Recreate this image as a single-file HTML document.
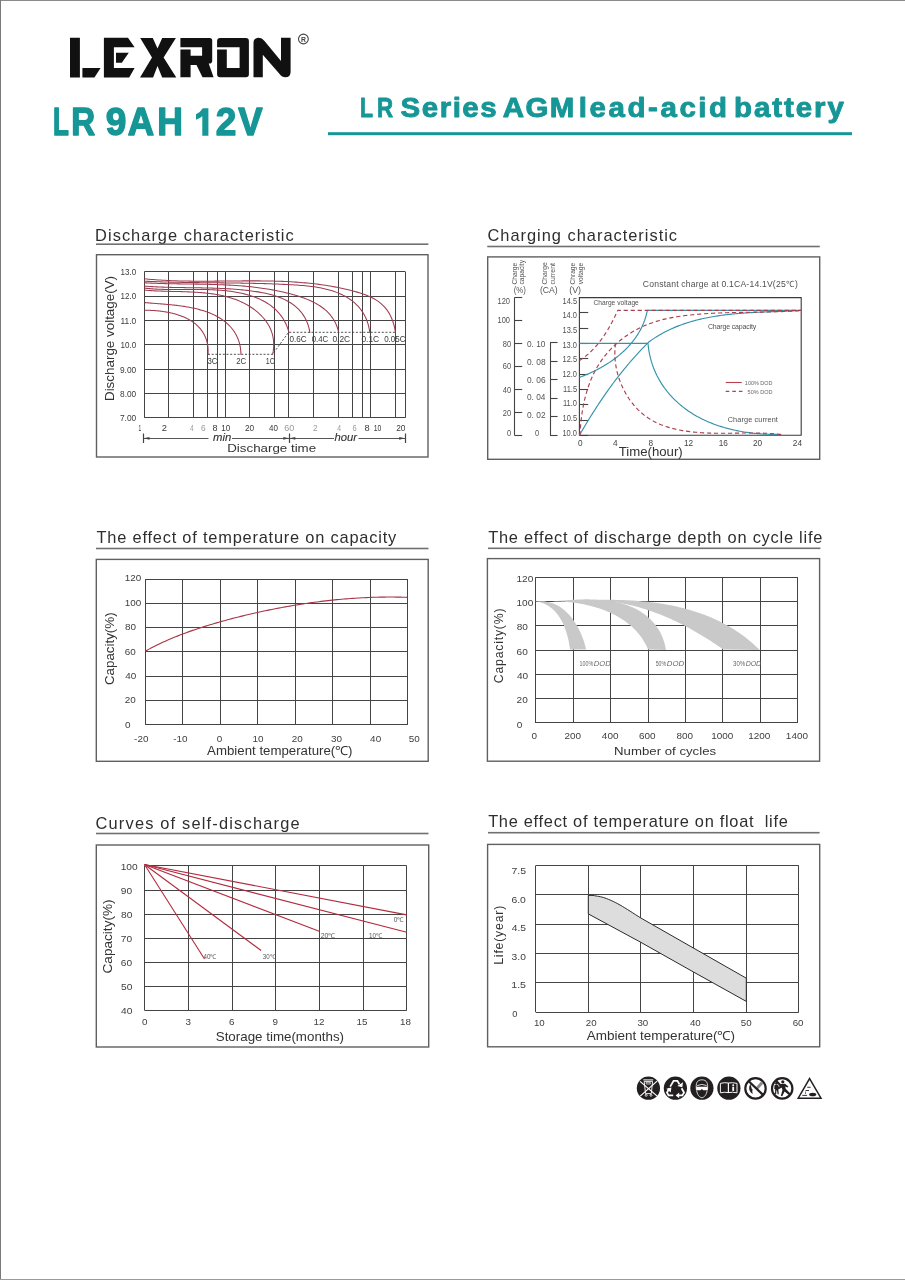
<!DOCTYPE html>
<html><head><meta charset="utf-8"><style>
html,body{margin:0;padding:0;background:#fff;}
body{width:905px;height:1280px;overflow:hidden;position:relative;}
svg{position:absolute;left:0;top:0;font-family:"Liberation Sans", sans-serif;will-change:transform;}
</style></head><body>
<svg width="905" height="1280" viewBox="0 0 905 1280">
<rect x="0" y="0" width="905" height="1" fill="#8a8a8a"/>
<rect x="0" y="0" width="1" height="1280" fill="#7a7a7a"/>
<rect x="0" y="1279" width="905" height="1" fill="#9a9a9a"/>
<path d="M70,37.8 H79.9 V77.4 H70 Z M82.4,68 H100.6 L94.4,77.4 H82.4 Z M103.9,37.8 H128 L134.6,47.3 H113.9 V68 H134.6 L129.2,77.4 H103.9 Z M116,52.7 H128.8 L121.8,62.7 H116 Z M140.2,38.1 H152.8 L157.5,48.6 L162.2,38.1 H175.9 L163.6,57.6 L176.3,77.6 H162.2 L157.5,66 L153.1,77.6 H140 L152,57.6 Z M180.4,38 H209.7 Q212.2,38 212.2,40.5 V60.8 Q212.2,63.6 209.4,63.6 H208.7 L213.6,77.3 H202.5 L196.5,65 H190.6 V77.3 H180.4 V49.5 H190.6 V55.7 H202.1 V47.3 H180.4 Z M217.1,41 Q217.1,38 220.1,38 H245.9 Q248.9,38 248.9,41 V74.3 Q248.9,77.3 245.9,77.3 H220.1 Q217.1,77.3 217.1,74.3 V49.5 H226.8 V68 H239.6 V47.3 H217.1 Z M253.5,43 Q253.5,37.7 258.8,37.7 Q262,37.7 264.5,41 L281,61 V37.7 H290.6 V72 Q290.6,77.3 285.3,77.3 Q282,77.3 279.6,74 L262.8,54.7 V77.3 H253.5 Z" fill="#111111"/>
<circle cx="303.4" cy="39" r="4.9" fill="none" stroke="#444" stroke-width="1.1"/>
<text x="300.9" y="41.6" font-size="6.8" textLength="4.91" lengthAdjust="spacingAndGlyphs" fill="#444" font-weight="bold" >R</text>
<text x="53.08" y="135.1" font-size="38.2" textLength="15.87" lengthAdjust="spacingAndGlyphs" fill="#169696" font-weight="bold" stroke="#169696" stroke-width="1.4" stroke-linejoin="round">L</text>
<text x="71.13" y="135.1" font-size="38.2" textLength="23.9" lengthAdjust="spacingAndGlyphs" fill="#169696" font-weight="bold" stroke="#169696" stroke-width="1.4" stroke-linejoin="round">R</text>
<text x="105.84" y="135.1" font-size="38.2" textLength="20.58" lengthAdjust="spacingAndGlyphs" fill="#169696" font-weight="bold" stroke="#169696" stroke-width="1.4" stroke-linejoin="round">9</text>
<text x="127.73" y="135.1" font-size="38.2" textLength="26.37" lengthAdjust="spacingAndGlyphs" fill="#169696" font-weight="bold" stroke="#169696" stroke-width="1.4" stroke-linejoin="round">A</text>
<text x="157.18" y="135.1" font-size="38.2" textLength="25.66" lengthAdjust="spacingAndGlyphs" fill="#169696" font-weight="bold" stroke="#169696" stroke-width="1.4" stroke-linejoin="round">H</text>
<text x="215.84" y="135.1" font-size="38.2" textLength="20.58" lengthAdjust="spacingAndGlyphs" fill="#169696" font-weight="bold" stroke="#169696" stroke-width="1.4" stroke-linejoin="round">2</text>
<text x="238.2" y="135.1" font-size="38.2" textLength="24.32" lengthAdjust="spacingAndGlyphs" fill="#169696" font-weight="bold" stroke="#169696" stroke-width="1.4" stroke-linejoin="round">V</text>
<path d="M202.3,108.2 H208.4 V135.8 H202.3 V116.2 Q199.4,118.6 196,119.8 V114.2 Q200.2,112.4 202.8,108.2 Z" fill="#169696"/>
<text x="360.12" y="117.15" font-size="27.8" textLength="12.99" lengthAdjust="spacingAndGlyphs" fill="#169696" font-weight="bold" stroke="#169696" stroke-width="0.9" stroke-linejoin="round">L</text>
<text x="376.95" y="117.15" font-size="27.8" textLength="16.12" lengthAdjust="spacingAndGlyphs" fill="#169696" font-weight="bold" stroke="#169696" stroke-width="0.9" stroke-linejoin="round">R</text>
<text x="-0.43" y="0" font-size="27.8" textLength="90.62" lengthAdjust="spacing" transform="translate(401.05,117.15) scale(1.06,1)" fill="#169696" font-weight="bold" stroke="#169696" stroke-width="0.9" stroke-linejoin="round">Series</text>
<text x="-0.43" y="0" font-size="27.8" textLength="67.44" lengthAdjust="spacing" transform="translate(503.25,117.15) scale(1.06,1)" fill="#169696" font-weight="bold" stroke="#169696" stroke-width="0.9" stroke-linejoin="round">AGM</text>
<text x="-1.74" y="0" font-size="27.8" textLength="140.03" lengthAdjust="spacing" transform="translate(580.55,117.15) scale(1.06,1)" fill="#169696" font-weight="bold" stroke="#169696" stroke-width="0.9" stroke-linejoin="round">lead-acid</text>
<text x="-1.74" y="0" font-size="27.8" textLength="103.64" lengthAdjust="spacing" transform="translate(735.85,117.15) scale(1.06,1)" fill="#169696" font-weight="bold" stroke="#169696" stroke-width="0.9" stroke-linejoin="round">battery</text>
<rect x="328" y="132.2" width="524" height="3" fill="#169696"/>
<text x="95.12" y="240.5" font-size="16.4" textLength="198.54" lengthAdjust="spacing" fill="#2e2e2e" >Discharge characteristic</text>
<rect x="96" y="243.4" width="332.4" height="1.6" fill="#707070"/>
<text x="487.43" y="240.6" font-size="16.4" textLength="189.62" lengthAdjust="spacing" fill="#2e2e2e" >Charging characteristic</text>
<rect x="487.3" y="245.7" width="332.5" height="1.6" fill="#707070"/>
<text x="96.54" y="542.5" font-size="16.4" textLength="299.66" lengthAdjust="spacing" fill="#2e2e2e" >The effect of temperature on capacity</text>
<rect x="96" y="547.7" width="332.5" height="1.6" fill="#707070"/>
<text x="488.14" y="542.5" font-size="16.4" textLength="334.22" lengthAdjust="spacing" fill="#2e2e2e" >The effect of discharge depth on cycle life</text>
<rect x="488" y="547.5" width="332.4" height="1.6" fill="#707070"/>
<text x="95.53" y="828.5" font-size="16.4" textLength="204.03" lengthAdjust="spacing" fill="#2e2e2e" >Curves of self-discharge</text>
<rect x="96" y="832.7" width="332.5" height="1.6" fill="#707070"/>
<text x="488.14" y="827.3" font-size="16.4" textLength="299.72" lengthAdjust="spacing" fill="#2e2e2e" >The effect of temperature on float  life</text>
<rect x="488" y="831.9" width="331.6" height="1.6" fill="#707070"/>
<rect x="96.5" y="254.7" width="331.5" height="202.3" fill="none" stroke="#606060" stroke-width="1.4"/>
<rect x="487.7" y="256.9" width="332" height="202.4" fill="none" stroke="#606060" stroke-width="1.4"/>
<rect x="96.3" y="559.4" width="331.9" height="201.9" fill="none" stroke="#606060" stroke-width="1.4"/>
<rect x="487.4" y="558.6" width="332.2" height="202.6" fill="none" stroke="#606060" stroke-width="1.4"/>
<rect x="96.3" y="845" width="332.4" height="202" fill="none" stroke="#606060" stroke-width="1.4"/>
<rect x="487.6" y="844.4" width="332.1" height="202.4" fill="none" stroke="#606060" stroke-width="1.4"/>
<line x1="144.3" y1="271.5" x2="405.3" y2="271.5" stroke="#444444" stroke-width="1.05" />
<line x1="144.3" y1="296.5" x2="405.3" y2="296.5" stroke="#444444" stroke-width="1.05" />
<line x1="144.3" y1="320.5" x2="405.3" y2="320.5" stroke="#444444" stroke-width="1.05" />
<line x1="144.3" y1="344.5" x2="405.3" y2="344.5" stroke="#444444" stroke-width="1.05" />
<line x1="144.3" y1="369.5" x2="405.3" y2="369.5" stroke="#444444" stroke-width="1.05" />
<line x1="144.3" y1="393.5" x2="405.3" y2="393.5" stroke="#444444" stroke-width="1.05" />
<line x1="144.3" y1="417.5" x2="405.3" y2="417.5" stroke="#444444" stroke-width="1.05" />
<line x1="144.5" y1="271.7" x2="144.5" y2="417.8" stroke="#444444" stroke-width="1.05" />
<line x1="168.5" y1="271.7" x2="168.5" y2="417.8" stroke="#444444" stroke-width="1.05" />
<line x1="193.5" y1="271.7" x2="193.5" y2="417.8" stroke="#444444" stroke-width="1.05" />
<line x1="207.5" y1="271.7" x2="207.5" y2="417.8" stroke="#444444" stroke-width="1.05" />
<line x1="217.5" y1="271.7" x2="217.5" y2="417.8" stroke="#444444" stroke-width="1.05" />
<line x1="225.5" y1="271.7" x2="225.5" y2="417.8" stroke="#444444" stroke-width="1.05" />
<line x1="249.5" y1="271.7" x2="249.5" y2="417.8" stroke="#444444" stroke-width="1.05" />
<line x1="274.5" y1="271.7" x2="274.5" y2="417.8" stroke="#444444" stroke-width="1.05" />
<line x1="288.5" y1="271.7" x2="288.5" y2="417.8" stroke="#444444" stroke-width="1.05" />
<line x1="313.5" y1="271.7" x2="313.5" y2="417.8" stroke="#444444" stroke-width="1.05" />
<line x1="338.5" y1="271.7" x2="338.5" y2="417.8" stroke="#444444" stroke-width="1.05" />
<line x1="352.5" y1="271.7" x2="352.5" y2="417.8" stroke="#444444" stroke-width="1.05" />
<line x1="362.5" y1="271.7" x2="362.5" y2="417.8" stroke="#444444" stroke-width="1.05" />
<line x1="370.5" y1="271.7" x2="370.5" y2="417.8" stroke="#444444" stroke-width="1.05" />
<line x1="395.5" y1="271.7" x2="395.5" y2="417.8" stroke="#444444" stroke-width="1.05" />
<line x1="405.5" y1="271.7" x2="405.5" y2="417.8" stroke="#444444" stroke-width="1.05" />
<text x="120.5" y="275.1" font-size="9.6" textLength="15.71" lengthAdjust="spacingAndGlyphs" fill="#3a3a3a" >13.0</text>
<text x="120.5" y="299.45" font-size="9.6" textLength="15.71" lengthAdjust="spacingAndGlyphs" fill="#3a3a3a" >12.0</text>
<text x="120.47" y="323.8" font-size="9.6" textLength="15.73" lengthAdjust="spacingAndGlyphs" fill="#3a3a3a" >11.0</text>
<text x="120.5" y="348.15" font-size="9.6" textLength="15.71" lengthAdjust="spacingAndGlyphs" fill="#3a3a3a" >10.0</text>
<text x="119.91" y="372.5" font-size="9.6" textLength="16.3" lengthAdjust="spacingAndGlyphs" fill="#3a3a3a" >9.00</text>
<text x="120.04" y="396.85" font-size="9.6" textLength="16.17" lengthAdjust="spacingAndGlyphs" fill="#3a3a3a" >8.00</text>
<text x="119.91" y="421.2" font-size="9.6" textLength="16.3" lengthAdjust="spacingAndGlyphs" fill="#3a3a3a" >7.00</text>
<text x="138.6" y="430.5" font-size="8.7" textLength="2.7" lengthAdjust="spacingAndGlyphs" fill="#3a3a3a" >1</text>
<text x="161.66" y="430.5" font-size="8.7" textLength="5.22" lengthAdjust="spacingAndGlyphs" fill="#3a3a3a" >2</text>
<text x="190.1" y="430.5" font-size="8.7" textLength="3.67" lengthAdjust="spacingAndGlyphs" fill="#9a9a9a" >4</text>
<text x="200.91" y="430.5" font-size="8.7" textLength="4.63" lengthAdjust="spacingAndGlyphs" fill="#9a9a9a" >6</text>
<text x="212.62" y="430.5" font-size="8.7" textLength="5.05" lengthAdjust="spacingAndGlyphs" fill="#3a3a3a" >8</text>
<text x="221.19" y="430.5" font-size="8.7" textLength="9.01" lengthAdjust="spacingAndGlyphs" fill="#3a3a3a" >10</text>
<text x="245.01" y="430.5" font-size="8.7" textLength="9.19" lengthAdjust="spacingAndGlyphs" fill="#3a3a3a" >20</text>
<text x="269.07" y="430.5" font-size="8.7" textLength="8.93" lengthAdjust="spacingAndGlyphs" fill="#3a3a3a" >40</text>
<text x="284.28" y="430.5" font-size="8.7" textLength="10.05" lengthAdjust="spacingAndGlyphs" fill="#9a9a9a" >60</text>
<text x="313.01" y="430.5" font-size="8.7" textLength="4.63" lengthAdjust="spacingAndGlyphs" fill="#9a9a9a" >2</text>
<text x="337.29" y="430.5" font-size="8.7" textLength="3.78" lengthAdjust="spacingAndGlyphs" fill="#9a9a9a" >4</text>
<text x="352.45" y="430.5" font-size="8.7" textLength="4.15" lengthAdjust="spacingAndGlyphs" fill="#9a9a9a" >6</text>
<text x="364.41" y="430.5" font-size="8.7" textLength="5.17" lengthAdjust="spacingAndGlyphs" fill="#3a3a3a" >8</text>
<text x="373.77" y="430.5" font-size="8.7" textLength="7.6" lengthAdjust="spacingAndGlyphs" fill="#3a3a3a" >10</text>
<text x="396.21" y="430.5" font-size="8.7" textLength="9.3" lengthAdjust="spacingAndGlyphs" fill="#3a3a3a" >20</text>
<line x1="143.3" y1="438.5" x2="208.5" y2="438.5" stroke="#444" stroke-width="0.9" />
<line x1="232" y1="438.5" x2="334" y2="438.5" stroke="#444" stroke-width="0.9" />
<line x1="358.5" y1="438.5" x2="405.3" y2="438.5" stroke="#444" stroke-width="0.9" />
<line x1="143.5" y1="433.5" x2="143.5" y2="443" stroke="#444" stroke-width="1.2" />
<line x1="289.5" y1="433.5" x2="289.5" y2="443" stroke="#444" stroke-width="1.2" />
<line x1="405.5" y1="433.5" x2="405.5" y2="443" stroke="#444" stroke-width="1.2" />
<path d="M143.6,438.3 L149.5,436.9 L149.5,439.7 Z" fill="#444"/>
<path d="M289.1,438.3 L283.3,436.9 L283.3,439.7 Z" fill="#444"/>
<path d="M289.5,438.3 L295.3,436.9 L295.3,439.7 Z" fill="#444"/>
<path d="M405.1,438.3 L399.2,436.9 L399.2,439.7 Z" fill="#444"/>
<text x="213.02" y="441" font-size="10.6" textLength="18.24" lengthAdjust="spacingAndGlyphs" fill="#333" font-style="italic" stroke="#333" stroke-width="0.12">min</text>
<text x="334.52" y="441.2" font-size="10.6" textLength="22.5" lengthAdjust="spacingAndGlyphs" fill="#333" font-style="italic" stroke="#333" stroke-width="0.12">hour</text>
<text x="227.26" y="451.7" font-size="11.8" textLength="88.88" lengthAdjust="spacingAndGlyphs" fill="#333" >Discharge time</text>
<text x="-1.05" y="0" font-size="12.4" textLength="125.14" lengthAdjust="spacingAndGlyphs" transform="translate(113.8,400) rotate(-90)" fill="#333" >Discharge voltage(V)</text>
<path d="M144.4,278.76 L146.67,278.99 L148.94,279.21 L151.22,279.41 L153.49,279.6 L155.77,279.77 L158.05,279.93 L160.33,280.08 L162.62,280.22 L164.9,280.35 L167.19,280.47 L169.47,280.57 L171.76,280.67 L174.05,280.76 L176.34,280.83 L178.64,280.9 L180.93,280.96 L183.22,281.02 L185.52,281.06 L187.82,281.1 L190.12,281.13 L192.41,281.15 L194.71,281.17 L197.01,281.19 L199.32,281.19 L201.62,281.2 L203.92,281.19 L206.22,281.19 L208.53,281.18 L210.83,281.17 L213.14,281.15 L215.44,281.13 L217.75,281.11 L220.05,281.09 L222.36,281.07 L224.67,281.05 L226.97,281.02 L229.28,281 L231.59,280.98 L233.9,280.96 L236.2,280.93 L238.51,280.92 L240.82,280.9 L243.12,280.88 L245.43,280.87 L247.74,280.86 L250.04,280.86 L252.35,280.86 L254.65,280.86 L256.96,280.87 L259.26,280.88 L261.56,280.9 L263.87,280.92 L266.17,280.96 L268.47,280.99 L270.77,281.04 L273.07,281.09 L275.37,281.15 L277.67,281.22 L279.97,281.3 L282.26,281.39 L284.56,281.49 L286.85,281.6 L289.14,281.71 L291.44,281.84 L293.73,281.98 L296.02,282.14 L298.3,282.3 L300.59,282.48 L302.87,282.67 L305.16,282.87 L307.44,283.08 L309.72,283.31 L312,283.56 L314.27,283.82 L316.55,284.09 L318.82,284.38 L321.09,284.69 L323.36,285.01 L325.63,285.35 L327.9,285.71 L330.16,286.09 L332.42,286.48 L334.68,286.89 L336.94,287.32 L339.19,287.77 L341.44,288.24 L343.69,288.73 L345.94,289.24 L348.19,289.77 L350.43,290.33 L352.67,290.9 L354.91,291.5 L357.13,292.12 L359.35,292.78 L361.54,293.48 L363.71,294.22 L365.85,295.02 L367.96,295.86 L370.03,296.77 L372.05,297.75 L374.01,298.8 L375.93,299.92 L377.78,301.13 L379.56,302.42 L381.27,303.81 L382.91,305.3 L384.46,306.9 L385.92,308.6 L387.29,310.42 L388.57,312.35 L389.74,314.38 L390.82,316.5 L391.8,318.7 L392.68,320.97 L393.45,323.3 L394.12,325.69 L394.68,328.12 L395.14,330.57 L395.49,333.05" fill="none" stroke="#9e3a4e" stroke-width="1.05" stroke-linejoin="round" />
<path d="M144.17,281.17 L146.3,281.27 L148.44,281.37 L150.57,281.46 L152.69,281.55 L154.81,281.63 L156.92,281.71 L159.04,281.79 L161.14,281.86 L163.25,281.93 L165.35,281.99 L167.44,282.05 L169.54,282.11 L171.63,282.17 L173.71,282.22 L175.8,282.26 L177.88,282.31 L179.96,282.35 L182.03,282.39 L184.11,282.43 L186.18,282.46 L188.25,282.5 L190.32,282.53 L192.39,282.56 L194.45,282.59 L196.51,282.61 L198.58,282.64 L200.64,282.66 L202.7,282.68 L204.76,282.71 L206.81,282.73 L208.87,282.75 L210.93,282.77 L212.99,282.79 L215.04,282.81 L217.1,282.83 L219.16,282.85 L221.21,282.87 L223.27,282.89 L225.33,282.91 L227.39,282.93 L229.45,282.96 L231.51,282.98 L233.57,283.01 L235.64,283.03 L237.7,283.06 L239.77,283.09 L241.84,283.12 L243.91,283.16 L245.98,283.19 L248.05,283.23 L250.13,283.27 L252.21,283.31 L254.29,283.36 L256.38,283.41 L258.47,283.46 L260.56,283.51 L262.65,283.57 L264.75,283.63 L266.85,283.7 L268.95,283.77 L271.06,283.84 L273.17,283.91 L275.29,284 L277.41,284.08 L279.53,284.17 L281.66,284.26 L283.8,284.36 L285.94,284.47 L288.08,284.58 L290.23,284.69 L292.38,284.81 L294.54,284.94 L296.69,285.08 L298.85,285.23 L301.01,285.4 L303.16,285.58 L305.31,285.78 L307.45,285.99 L309.59,286.23 L311.71,286.5 L313.83,286.78 L315.94,287.1 L318.03,287.44 L320.11,287.81 L322.17,288.22 L324.21,288.66 L326.24,289.14 L328.25,289.65 L330.23,290.21 L332.2,290.81 L334.13,291.45 L336.05,292.13 L337.93,292.87 L339.79,293.65 L341.61,294.48 L343.41,295.37 L345.17,296.31 L346.9,297.31 L348.59,298.36 L350.23,299.47 L351.84,300.65 L353.39,301.88 L354.9,303.17 L356.35,304.53 L357.75,305.95 L359.09,307.44 L360.36,308.99 L361.58,310.61 L362.72,312.3 L363.8,314.05 L364.8,315.88 L365.73,317.78 L366.57,319.75 L367.34,321.8 L368.02,323.92 L368.61,326.11 L369.12,328.39 L369.53,330.74 L369.84,333.17" fill="none" stroke="#9e3a4e" stroke-width="1.05" stroke-linejoin="round" />
<path d="M144.5,282.77 L146.23,282.87 L147.96,282.96 L149.7,283.05 L151.44,283.13 L153.18,283.21 L154.93,283.28 L156.67,283.35 L158.42,283.41 L160.17,283.47 L161.93,283.52 L163.69,283.57 L165.44,283.62 L167.2,283.66 L168.97,283.7 L170.73,283.74 L172.5,283.77 L174.27,283.8 L176.04,283.83 L177.81,283.86 L179.58,283.89 L181.36,283.92 L183.14,283.94 L184.91,283.96 L186.69,283.99 L188.47,284.01 L190.26,284.04 L192.04,284.06 L193.82,284.08 L195.61,284.11 L197.4,284.14 L199.19,284.17 L200.97,284.2 L202.76,284.23 L204.55,284.26 L206.34,284.3 L208.14,284.34 L209.93,284.38 L211.72,284.43 L213.51,284.48 L215.31,284.53 L217.1,284.59 L218.89,284.65 L220.69,284.72 L222.48,284.79 L224.28,284.87 L226.07,284.95 L227.87,285.04 L229.66,285.13 L231.45,285.23 L233.25,285.34 L235.04,285.45 L236.83,285.57 L238.63,285.7 L240.42,285.84 L242.21,285.98 L244,286.13 L245.79,286.29 L247.58,286.46 L249.37,286.64 L251.15,286.82 L252.94,287.02 L254.73,287.23 L256.51,287.44 L258.29,287.67 L260.07,287.91 L261.85,288.16 L263.63,288.41 L265.41,288.68 L267.19,288.97 L268.96,289.26 L270.73,289.57 L272.51,289.88 L274.28,290.22 L276.04,290.56 L277.81,290.92 L279.57,291.29 L281.33,291.67 L283.09,292.07 L284.85,292.48 L286.61,292.91 L288.36,293.35 L290.11,293.81 L291.86,294.28 L293.6,294.77 L295.35,295.27 L297.08,295.8 L298.81,296.34 L300.54,296.9 L302.25,297.48 L303.94,298.09 L305.62,298.72 L307.29,299.38 L308.93,300.07 L310.56,300.78 L312.16,301.53 L313.74,302.3 L315.29,303.12 L316.81,303.96 L318.3,304.84 L319.76,305.76 L321.18,306.72 L322.57,307.72 L323.92,308.76 L325.23,309.85 L326.49,310.98 L327.71,312.15 L328.89,313.37 L330.02,314.65 L331.09,315.97 L332.11,317.34 L333.08,318.77 L334,320.25 L334.85,321.79 L335.65,323.39 L336.38,325.04 L337.05,326.76 L337.65,328.53 L338.18,330.37 L338.65,332.28" fill="none" stroke="#9e3a4e" stroke-width="1.05" stroke-linejoin="round" />
<path d="M144.36,286.12 L145.91,286.24 L147.46,286.35 L149.01,286.45 L150.56,286.55 L152.11,286.64 L153.66,286.73 L155.21,286.81 L156.76,286.89 L158.31,286.96 L159.86,287.02 L161.41,287.08 L162.95,287.14 L164.5,287.19 L166.05,287.24 L167.59,287.29 L169.14,287.33 L170.69,287.37 L172.23,287.41 L173.78,287.44 L175.32,287.47 L176.87,287.5 L178.42,287.53 L179.96,287.56 L181.51,287.58 L183.05,287.6 L184.6,287.62 L186.15,287.65 L187.69,287.67 L189.24,287.69 L190.79,287.71 L192.33,287.73 L193.88,287.75 L195.43,287.77 L196.98,287.79 L198.52,287.82 L200.07,287.84 L201.62,287.87 L203.17,287.9 L204.72,287.93 L206.27,287.96 L207.82,288 L209.38,288.03 L210.93,288.07 L212.48,288.12 L214.03,288.17 L215.59,288.22 L217.14,288.27 L218.7,288.33 L220.26,288.4 L221.81,288.47 L223.37,288.54 L224.93,288.62 L226.49,288.7 L228.05,288.79 L229.61,288.89 L231.18,288.99 L232.74,289.1 L234.3,289.21 L235.87,289.33 L237.44,289.46 L239.01,289.59 L240.58,289.74 L242.15,289.89 L243.72,290.05 L245.29,290.21 L246.87,290.39 L248.44,290.57 L250.02,290.76 L251.6,290.96 L253.17,291.18 L254.75,291.4 L256.33,291.63 L257.9,291.88 L259.47,292.14 L261.04,292.42 L262.6,292.71 L264.16,293.02 L265.7,293.34 L267.24,293.69 L268.77,294.05 L270.29,294.44 L271.8,294.84 L273.3,295.27 L274.79,295.72 L276.26,296.2 L277.71,296.7 L279.15,297.23 L280.57,297.78 L281.98,298.36 L283.37,298.98 L284.73,299.62 L286.08,300.29 L287.4,300.99 L288.71,301.73 L289.98,302.5 L291.24,303.3 L292.46,304.14 L293.66,305.02 L294.83,305.93 L295.96,306.87 L297.07,307.86 L298.14,308.88 L299.18,309.95 L300.18,311.05 L301.14,312.2 L302.07,313.38 L302.95,314.61 L303.79,315.88 L304.59,317.2 L305.35,318.56 L306.06,319.96 L306.72,321.41 L307.34,322.91 L307.9,324.46 L308.42,326.05 L308.88,327.69 L309.29,329.38 L309.65,331.13 L309.94,332.92" fill="none" stroke="#9e3a4e" stroke-width="1.05" stroke-linejoin="round" />
<path d="M144.5,288.09 L145.8,288.25 L147.1,288.39 L148.41,288.52 L149.72,288.64 L151.03,288.75 L152.35,288.86 L153.68,288.95 L155.01,289.03 L156.34,289.11 L157.67,289.18 L159.01,289.24 L160.36,289.3 L161.7,289.35 L163.06,289.39 L164.41,289.42 L165.77,289.46 L167.13,289.48 L168.49,289.5 L169.85,289.52 L171.22,289.53 L172.59,289.54 L173.97,289.54 L175.34,289.54 L176.72,289.54 L178.1,289.54 L179.48,289.54 L180.86,289.53 L182.25,289.52 L183.63,289.51 L185.02,289.5 L186.41,289.5 L187.8,289.49 L189.19,289.48 L190.58,289.47 L191.98,289.47 L193.37,289.46 L194.76,289.46 L196.16,289.46 L197.55,289.47 L198.94,289.47 L200.34,289.48 L201.73,289.5 L203.13,289.52 L204.52,289.54 L205.91,289.57 L207.3,289.6 L208.69,289.64 L210.08,289.69 L211.47,289.74 L212.86,289.8 L214.25,289.86 L215.63,289.94 L217.02,290.02 L218.4,290.11 L219.78,290.21 L221.16,290.31 L222.53,290.43 L223.91,290.56 L225.28,290.69 L226.65,290.84 L228.02,291 L229.38,291.17 L230.74,291.35 L232.1,291.54 L233.45,291.75 L234.81,291.97 L236.15,292.2 L237.5,292.44 L238.84,292.7 L240.18,292.97 L241.51,293.26 L242.84,293.56 L244.17,293.88 L245.49,294.21 L246.8,294.56 L248.1,294.93 L249.4,295.31 L250.7,295.71 L251.98,296.13 L253.25,296.57 L254.52,297.03 L255.77,297.5 L257.01,298 L258.24,298.52 L259.46,299.05 L260.67,299.61 L261.87,300.19 L263.05,300.8 L264.21,301.42 L265.36,302.07 L266.5,302.74 L267.62,303.44 L268.72,304.16 L269.81,304.9 L270.87,305.67 L271.92,306.47 L272.95,307.29 L273.96,308.13 L274.94,309.01 L275.91,309.91 L276.85,310.84 L277.76,311.8 L278.66,312.78 L279.52,313.79 L280.37,314.84 L281.18,315.91 L281.97,317.01 L282.73,318.14 L283.46,319.3 L284.16,320.5 L284.83,321.72 L285.47,322.98 L286.08,324.26 L286.65,325.58 L287.19,326.94 L287.7,328.32 L288.17,329.74 L288.6,331.2 L289,332.69" fill="none" stroke="#9e3a4e" stroke-width="1.05" stroke-linejoin="round" />
<path d="M144.47,290.09 L145.77,290.21 L147.08,290.33 L148.4,290.43 L149.72,290.53 L151.05,290.63 L152.39,290.71 L153.73,290.79 L155.08,290.86 L156.43,290.93 L157.79,290.99 L159.15,291.04 L160.52,291.1 L161.89,291.14 L163.27,291.19 L164.65,291.23 L166.04,291.27 L167.43,291.3 L168.82,291.34 L170.22,291.37 L171.62,291.4 L173.02,291.43 L174.42,291.46 L175.83,291.5 L177.23,291.53 L178.64,291.56 L180.06,291.6 L181.47,291.63 L182.88,291.67 L184.3,291.72 L185.71,291.76 L187.13,291.81 L188.55,291.87 L189.96,291.93 L191.38,291.99 L192.79,292.06 L194.21,292.14 L195.62,292.22 L197.03,292.31 L198.44,292.4 L199.85,292.51 L201.26,292.62 L202.66,292.74 L204.06,292.87 L205.46,293.01 L206.86,293.16 L208.25,293.32 L209.64,293.49 L211.03,293.67 L212.41,293.86 L213.79,294.07 L215.16,294.29 L216.53,294.52 L217.9,294.76 L219.26,295.02 L220.61,295.29 L221.96,295.58 L223.3,295.88 L224.64,296.2 L225.97,296.53 L227.3,296.88 L228.62,297.25 L229.93,297.63 L231.23,298.03 L232.53,298.45 L233.82,298.89 L235.1,299.35 L236.37,299.82 L237.64,300.32 L238.89,300.84 L240.14,301.38 L241.38,301.93 L242.61,302.51 L243.83,303.12 L245.04,303.74 L246.24,304.39 L247.43,305.06 L248.61,305.76 L249.78,306.48 L250.94,307.22 L252.08,307.99 L253.22,308.78 L254.33,309.6 L255.43,310.44 L256.52,311.31 L257.58,312.2 L258.62,313.11 L259.64,314.05 L260.64,315.01 L261.61,315.99 L262.55,316.99 L263.47,318.02 L264.36,319.07 L265.21,320.14 L266.03,321.24 L266.82,322.36 L267.57,323.5 L268.28,324.66 L268.95,325.84 L269.59,327.04 L270.18,328.26 L270.73,329.51 L271.23,330.77 L271.69,332.06 L272.1,333.36 L272.47,334.68 L272.79,336.02 L273.06,337.38 L273.29,338.75 L273.47,340.13 L273.6,341.53 L273.68,342.94 L273.72,344.37 L273.7,345.8 L273.64,347.24 L273.53,348.7 L273.37,350.16 L273.16,351.63 L272.89,353.1 L272.58,354.58" fill="none" stroke="#9e3a4e" stroke-width="1.05" stroke-linejoin="round" />
<path d="M144.56,302.55 L145.45,302.64 L146.36,302.72 L147.27,302.8 L148.19,302.88 L149.12,302.96 L150.06,303.04 L151,303.12 L151.96,303.19 L152.92,303.27 L153.89,303.35 L154.86,303.42 L155.85,303.5 L156.84,303.57 L157.83,303.65 L158.83,303.73 L159.84,303.81 L160.85,303.89 L161.87,303.97 L162.89,304.05 L163.92,304.14 L164.95,304.23 L165.98,304.32 L167.02,304.41 L168.06,304.5 L169.11,304.6 L170.15,304.7 L171.2,304.81 L172.26,304.91 L173.31,305.03 L174.37,305.14 L175.43,305.26 L176.48,305.38 L177.54,305.51 L178.61,305.65 L179.67,305.78 L180.73,305.93 L181.79,306.08 L182.85,306.23 L183.91,306.39 L184.97,306.56 L186.03,306.73 L187.08,306.91 L188.14,307.09 L189.19,307.28 L190.24,307.48 L191.29,307.69 L192.33,307.9 L193.38,308.12 L194.41,308.35 L195.45,308.59 L196.48,308.83 L197.51,309.09 L198.53,309.35 L199.54,309.62 L200.56,309.9 L201.56,310.19 L202.56,310.49 L203.56,310.79 L204.55,311.11 L205.53,311.44 L206.5,311.78 L207.47,312.13 L208.43,312.49 L209.39,312.86 L210.33,313.24 L211.27,313.63 L212.2,314.04 L213.12,314.45 L214.03,314.88 L214.94,315.32 L215.83,315.78 L216.71,316.24 L217.59,316.72 L218.45,317.21 L219.3,317.71 L220.14,318.23 L220.98,318.76 L221.79,319.31 L222.6,319.87 L223.4,320.44 L224.18,321.03 L224.95,321.63 L225.71,322.24 L226.46,322.88 L227.19,323.52 L227.9,324.18 L228.61,324.86 L229.3,325.55 L229.97,326.26 L230.63,326.98 L231.27,327.72 L231.89,328.47 L232.5,329.24 L233.09,330.02 L233.66,330.82 L234.21,331.64 L234.75,332.47 L235.27,333.32 L235.76,334.18 L236.24,335.06 L236.69,335.95 L237.13,336.86 L237.54,337.79 L237.94,338.73 L238.31,339.69 L238.65,340.67 L238.98,341.66 L239.28,342.67 L239.56,343.7 L239.81,344.74 L240.04,345.8 L240.24,346.87 L240.42,347.96 L240.57,349.07 L240.7,350.2 L240.8,351.34 L240.87,352.5 L240.91,353.68 L240.93,354.88" fill="none" stroke="#9e3a4e" stroke-width="1.05" stroke-linejoin="round" />
<path d="M144.29,310.26 L144.98,310.26 L145.67,310.26 L146.36,310.26 L147.06,310.27 L147.77,310.29 L148.48,310.3 L149.19,310.32 L149.91,310.35 L150.63,310.38 L151.36,310.41 L152.09,310.45 L152.82,310.49 L153.56,310.53 L154.29,310.58 L155.03,310.63 L155.78,310.69 L156.52,310.75 L157.27,310.82 L158.02,310.89 L158.77,310.97 L159.52,311.05 L160.28,311.14 L161.03,311.23 L161.79,311.33 L162.54,311.43 L163.3,311.54 L164.06,311.65 L164.81,311.77 L165.57,311.89 L166.33,312.02 L167.08,312.16 L167.84,312.3 L168.59,312.44 L169.35,312.6 L170.1,312.76 L170.85,312.92 L171.6,313.09 L172.34,313.27 L173.09,313.46 L173.83,313.65 L174.57,313.84 L175.31,314.05 L176.04,314.26 L176.77,314.48 L177.5,314.7 L178.22,314.93 L178.94,315.17 L179.66,315.42 L180.37,315.67 L181.07,315.93 L181.78,316.2 L182.47,316.47 L183.17,316.76 L183.85,317.05 L184.54,317.35 L185.21,317.65 L185.88,317.97 L186.55,318.29 L187.21,318.62 L187.86,318.96 L188.51,319.3 L189.15,319.66 L189.78,320.02 L190.4,320.4 L191.02,320.78 L191.63,321.17 L192.23,321.56 L192.83,321.97 L193.41,322.39 L193.99,322.81 L194.56,323.25 L195.12,323.69 L195.67,324.14 L196.21,324.6 L196.75,325.07 L197.27,325.56 L197.78,326.05 L198.28,326.55 L198.78,327.06 L199.26,327.58 L199.73,328.11 L200.19,328.65 L200.64,329.2 L201.08,329.76 L201.51,330.33 L201.93,330.91 L202.33,331.49 L202.72,332.09 L203.1,332.7 L203.47,333.32 L203.83,333.95 L204.17,334.58 L204.5,335.23 L204.82,335.88 L205.12,336.55 L205.41,337.22 L205.69,337.9 L205.95,338.59 L206.2,339.28 L206.43,339.99 L206.65,340.7 L206.86,341.42 L207.05,342.15 L207.23,342.89 L207.39,343.63 L207.53,344.38 L207.66,345.14 L207.78,345.91 L207.88,346.68 L207.96,347.46 L208.02,348.24 L208.07,349.04 L208.11,349.84 L208.12,350.64 L208.12,351.46 L208.1,352.28 L208.07,353.1 L208.02,353.93 L207.95,354.77" fill="none" stroke="#9e3a4e" stroke-width="1.05" stroke-linejoin="round" />
<path d="M208,354.3 H272.6 L288.6,332.3 H395.5" fill="none" stroke="#3a3a3a" stroke-width="0.9" stroke-dasharray="2,1.7"/>
<text x="207.46" y="363.7" font-size="9.3" textLength="9.91" lengthAdjust="spacingAndGlyphs" fill="#3a3a3a" >3C</text>
<text x="236.13" y="363.7" font-size="9.3" textLength="10.04" lengthAdjust="spacingAndGlyphs" fill="#3a3a3a" >2C</text>
<text x="265.86" y="363.7" font-size="9.3" textLength="8.98" lengthAdjust="spacingAndGlyphs" fill="#3a3a3a" >1C</text>
<text x="289.55" y="341.9" font-size="9.3" textLength="17.13" lengthAdjust="spacingAndGlyphs" fill="#3a3a3a" >0.6C</text>
<text x="311.66" y="341.9" font-size="9.3" textLength="16.41" lengthAdjust="spacingAndGlyphs" fill="#3a3a3a" >0.4C</text>
<text x="332.44" y="341.9" font-size="9.3" textLength="17.75" lengthAdjust="spacingAndGlyphs" fill="#3a3a3a" >0.2C</text>
<text x="361.44" y="341.9" font-size="9.3" textLength="17.75" lengthAdjust="spacingAndGlyphs" fill="#3a3a3a" >0.1C</text>
<text x="384.15" y="341.9" font-size="9.3" textLength="21.33" lengthAdjust="spacingAndGlyphs" fill="#3a3a3a" >0.05C</text>
<path d="M579.4,297.6 H801.2 V435.3 H579.4 Z" fill="none" stroke="#3a3a3a" stroke-width="1.1"/>
<line x1="514.5" y1="297.6" x2="514.5" y2="435.3" stroke="#444444" stroke-width="1.1" />
<line x1="514.4" y1="297.5" x2="522.2" y2="297.5" stroke="#444444" stroke-width="1.1" />
<line x1="514.4" y1="320.5" x2="522.2" y2="320.5" stroke="#444444" stroke-width="1.1" />
<line x1="514.4" y1="343.5" x2="522.2" y2="343.5" stroke="#444444" stroke-width="1.1" />
<line x1="514.4" y1="366.5" x2="522.2" y2="366.5" stroke="#444444" stroke-width="1.1" />
<line x1="514.4" y1="389.5" x2="522.2" y2="389.5" stroke="#444444" stroke-width="1.1" />
<line x1="514.4" y1="412.5" x2="522.2" y2="412.5" stroke="#444444" stroke-width="1.1" />
<line x1="514.4" y1="435.5" x2="522.2" y2="435.5" stroke="#444444" stroke-width="1.1" />
<text x="497.5" y="303.7" font-size="8.7" textLength="12.48" lengthAdjust="spacingAndGlyphs" fill="#505050" >120</text>
<text x="497.5" y="323.4" font-size="8.7" textLength="12.48" lengthAdjust="spacingAndGlyphs" fill="#505050" >100</text>
<text x="502.86" y="346.8" font-size="8.7" textLength="8.32" lengthAdjust="spacingAndGlyphs" fill="#505050" >80</text>
<text x="502.86" y="369.3" font-size="8.7" textLength="8.32" lengthAdjust="spacingAndGlyphs" fill="#505050" >60</text>
<text x="502.86" y="392.5" font-size="8.7" textLength="8.32" lengthAdjust="spacingAndGlyphs" fill="#505050" >40</text>
<text x="502.86" y="415.6" font-size="8.7" textLength="8.32" lengthAdjust="spacingAndGlyphs" fill="#505050" >20</text>
<text x="507.03" y="435.6" font-size="8.7" textLength="4.16" lengthAdjust="spacingAndGlyphs" fill="#505050" >0</text>
<line x1="550.5" y1="342.9" x2="550.5" y2="435.3" stroke="#444444" stroke-width="1.1" />
<line x1="550" y1="342.5" x2="557.6" y2="342.5" stroke="#444444" stroke-width="1.1" />
<line x1="550" y1="361.5" x2="557.6" y2="361.5" stroke="#444444" stroke-width="1.1" />
<line x1="550" y1="379.5" x2="557.6" y2="379.5" stroke="#444444" stroke-width="1.1" />
<line x1="550" y1="398.5" x2="557.6" y2="398.5" stroke="#444444" stroke-width="1.1" />
<line x1="550" y1="416.5" x2="557.6" y2="416.5" stroke="#444444" stroke-width="1.1" />
<line x1="550" y1="435.5" x2="557.6" y2="435.5" stroke="#444444" stroke-width="1.1" />
<text x="526.94" y="347.1" font-size="8.7" textLength="18.47" lengthAdjust="spacingAndGlyphs" fill="#555" >0. 10</text>
<text x="526.94" y="364.8" font-size="8.7" textLength="18.6" lengthAdjust="spacingAndGlyphs" fill="#555" >0. 08</text>
<text x="526.94" y="382.5" font-size="8.7" textLength="18.6" lengthAdjust="spacingAndGlyphs" fill="#555" >0. 06</text>
<text x="526.94" y="400.2" font-size="8.7" textLength="18.47" lengthAdjust="spacingAndGlyphs" fill="#555" >0. 04</text>
<text x="526.94" y="417.9" font-size="8.7" textLength="18.6" lengthAdjust="spacingAndGlyphs" fill="#555" >0. 02</text>
<text x="535.1" y="435.6" font-size="8.7" textLength="4.16" lengthAdjust="spacingAndGlyphs" fill="#555" >0</text>
<line x1="579.4" y1="312.5" x2="588.2" y2="312.5" stroke="#444444" stroke-width="1.1" />
<line x1="579.4" y1="328.5" x2="588.2" y2="328.5" stroke="#444444" stroke-width="1.1" />
<line x1="579.4" y1="343.5" x2="588.2" y2="343.5" stroke="#444444" stroke-width="1.1" />
<line x1="579.4" y1="358.5" x2="588.2" y2="358.5" stroke="#444444" stroke-width="1.1" />
<line x1="579.4" y1="374.5" x2="588.2" y2="374.5" stroke="#444444" stroke-width="1.1" />
<line x1="579.4" y1="389.5" x2="588.2" y2="389.5" stroke="#444444" stroke-width="1.1" />
<line x1="579.4" y1="404.5" x2="588.2" y2="404.5" stroke="#444444" stroke-width="1.1" />
<line x1="579.4" y1="420.5" x2="588.2" y2="420.5" stroke="#444444" stroke-width="1.1" />
<line x1="579.4" y1="435.5" x2="588.2" y2="435.5" stroke="#444444" stroke-width="1.1" />
<text x="562.54" y="303.7" font-size="8.7" textLength="14.56" lengthAdjust="spacingAndGlyphs" fill="#505050" >14.5</text>
<text x="562.42" y="318.36" font-size="8.7" textLength="14.56" lengthAdjust="spacingAndGlyphs" fill="#505050" >14.0</text>
<text x="562.54" y="333.02" font-size="8.7" textLength="14.56" lengthAdjust="spacingAndGlyphs" fill="#505050" >13.5</text>
<text x="562.42" y="347.68" font-size="8.7" textLength="14.56" lengthAdjust="spacingAndGlyphs" fill="#505050" >13.0</text>
<text x="562.54" y="362.34" font-size="8.7" textLength="14.56" lengthAdjust="spacingAndGlyphs" fill="#505050" >12.5</text>
<text x="562.42" y="377" font-size="8.7" textLength="14.56" lengthAdjust="spacingAndGlyphs" fill="#505050" >12.0</text>
<text x="563.1" y="391.66" font-size="8.7" textLength="14.01" lengthAdjust="spacingAndGlyphs" fill="#505050" >11.5</text>
<text x="562.98" y="406.32" font-size="8.7" textLength="14.01" lengthAdjust="spacingAndGlyphs" fill="#505050" >11.0</text>
<text x="562.54" y="420.98" font-size="8.7" textLength="14.56" lengthAdjust="spacingAndGlyphs" fill="#505050" >10.5</text>
<text x="562.42" y="435.64" font-size="8.7" textLength="14.56" lengthAdjust="spacingAndGlyphs" fill="#505050" >10.0</text>
<text x="578.07" y="446.2" font-size="9.2" textLength="4.6" lengthAdjust="spacingAndGlyphs" fill="#444" >0</text>
<text x="613.04" y="446.2" font-size="9.2" textLength="4.6" lengthAdjust="spacingAndGlyphs" fill="#444" >4</text>
<text x="648.44" y="446.2" font-size="9.2" textLength="4.6" lengthAdjust="spacingAndGlyphs" fill="#444" >8</text>
<text x="683.9" y="446.2" font-size="9.2" textLength="9.21" lengthAdjust="spacingAndGlyphs" fill="#444" >12</text>
<text x="718.7" y="446.2" font-size="9.2" textLength="9.21" lengthAdjust="spacingAndGlyphs" fill="#444" >16</text>
<text x="752.9" y="446.2" font-size="9.2" textLength="9.21" lengthAdjust="spacingAndGlyphs" fill="#444" >20</text>
<text x="792.8" y="446.2" font-size="9.2" textLength="9.21" lengthAdjust="spacingAndGlyphs" fill="#444" >24</text>
<text x="618.69" y="455.9" font-size="13.2" textLength="63.99" lengthAdjust="spacingAndGlyphs" fill="#333" >Time(hour)</text>
<text x="-0.31" y="0" font-size="6.8" textLength="21.88" lengthAdjust="spacingAndGlyphs" transform="translate(516.5,284.3) rotate(-90)" fill="#555" >Charge</text>
<text x="-0.21" y="0" font-size="6.8" textLength="24.51" lengthAdjust="spacingAndGlyphs" transform="translate(524.4,284.3) rotate(-90)" fill="#555" >capacity</text>
<text x="-0.32" y="0" font-size="6.8" textLength="22.4" lengthAdjust="spacingAndGlyphs" transform="translate(547.4,284.3) rotate(-90)" fill="#555" >Charge</text>
<text x="-0.22" y="0" font-size="6.8" textLength="21.49" lengthAdjust="spacingAndGlyphs" transform="translate(554.7,284.3) rotate(-90)" fill="#555" >current</text>
<text x="-0.31" y="0" font-size="6.8" textLength="21.88" lengthAdjust="spacingAndGlyphs" transform="translate(574.6,284.3) rotate(-90)" fill="#555" >Chrage</text>
<text x="0" y="0" font-size="6.8" textLength="21.57" lengthAdjust="spacingAndGlyphs" transform="translate(582.6,284.3) rotate(-90)" fill="#555" >voltage</text>
<text x="513.63" y="292.6" font-size="8.2" textLength="12.17" lengthAdjust="spacingAndGlyphs" fill="#555" >(%)</text>
<text x="539.9" y="292.6" font-size="8.2" textLength="17.75" lengthAdjust="spacingAndGlyphs" fill="#555" >(CA)</text>
<text x="569.18" y="292.6" font-size="8.2" textLength="11.88" lengthAdjust="spacingAndGlyphs" fill="#555" >(V)</text>
<text x="642.8" y="286.6" font-size="8.6" textLength="155.15" lengthAdjust="spacing" fill="#505050" >Constant charge at 0.1CA-14.1V(25℃)</text>
<text x="593.39" y="305.3" font-size="6.6" textLength="45.38" lengthAdjust="spacing" fill="#505050" >Charge voltage</text>
<text x="707.97" y="328.8" font-size="7" textLength="48.33" lengthAdjust="spacing" fill="#505050" >Charge capacity</text>
<text x="727.66" y="422.4" font-size="7.3" textLength="50.22" lengthAdjust="spacing" fill="#505050" >Charge current</text>
<line x1="725.7" y1="382.5" x2="741.7" y2="382.5" stroke="#b8404f" stroke-width="1.1" />
<path d="M725.7,391.4 H743.4" stroke="#b8404f" stroke-width="1.1" stroke-dasharray="3.6,3"/>
<text x="744.86" y="384.6" font-size="5" textLength="27.53" lengthAdjust="spacingAndGlyphs" fill="#666" >100% DOD</text>
<text x="747.63" y="393.5" font-size="5" textLength="24.76" lengthAdjust="spacingAndGlyphs" fill="#666" >50% DOD</text>
<path d="M579.43,377.38 L580.2,377.1 L580.97,376.81 L581.74,376.51 L582.51,376.21 L583.29,375.91 L584.06,375.6 L584.83,375.29 L585.6,374.97 L586.37,374.65 L587.14,374.32 L587.91,373.99 L588.67,373.66 L589.44,373.32 L590.2,372.97 L590.97,372.62 L591.73,372.27 L592.49,371.91 L593.25,371.55 L594.01,371.18 L594.77,370.81 L595.52,370.43 L596.28,370.05 L597.03,369.66 L597.78,369.27 L598.53,368.88 L599.27,368.48 L600.02,368.07 L600.76,367.66 L601.49,367.25 L602.23,366.83 L602.96,366.41 L603.7,365.98 L604.42,365.55 L605.15,365.11 L605.87,364.67 L606.59,364.23 L607.31,363.77 L608.02,363.32 L608.73,362.86 L609.44,362.39 L610.14,361.92 L610.84,361.45 L611.54,360.97 L612.23,360.48 L612.92,360 L613.6,359.5 L614.29,359 L614.96,358.5 L615.63,357.99 L616.3,357.48 L616.97,356.96 L617.63,356.44 L618.28,355.91 L618.93,355.38 L619.58,354.85 L620.22,354.3 L620.86,353.76 L621.49,353.21 L622.12,352.65 L622.74,352.09 L623.36,351.53 L623.97,350.96 L624.58,350.38 L625.18,349.8 L625.77,349.22 L626.36,348.63 L626.94,348.03 L627.52,347.43 L628.1,346.83 L628.66,346.22 L629.22,345.61 L629.78,344.99 L630.33,344.36 L630.87,343.73 L631.4,343.1 L631.93,342.46 L632.45,341.82 L632.97,341.17 L633.48,340.52 L633.98,339.86 L634.48,339.2 L634.97,338.53 L635.45,337.85 L635.92,337.18 L636.39,336.49 L636.85,335.8 L637.3,335.11 L637.75,334.41 L638.18,333.71 L638.61,333 L639.04,332.29 L639.45,331.57 L639.86,330.85 L640.25,330.12 L640.64,329.39 L641.03,328.65 L641.4,327.91 L641.76,327.16 L642.12,326.41 L642.47,325.65 L642.81,324.88 L643.14,324.12 L643.46,323.34 L643.78,322.56 L644.08,321.78 L644.38,320.99 L644.66,320.2 L644.94,319.4 L645.21,318.6 L645.46,317.79 L645.71,316.97 L645.95,316.15 L646.18,315.33 L646.4,314.5 L646.61,313.66 L646.81,312.82 L647,311.98 L647.18,311.13 L647.35,310.27 L801.2,310.4" fill="none" stroke="#3592ab" stroke-width="1.15" stroke-linejoin="round" />
<path d="M579.4,343.3 L647.6,343.3 L648.02,343.45 L648.16,345.06 L648.34,346.65 L648.54,348.23 L648.76,349.8 L649.02,351.36 L649.3,352.91 L649.6,354.44 L649.93,355.96 L650.29,357.47 L650.67,358.96 L651.08,360.45 L651.51,361.92 L651.97,363.37 L652.45,364.82 L652.96,366.25 L653.48,367.67 L654.03,369.07 L654.61,370.46 L655.21,371.84 L655.83,373.21 L656.47,374.56 L657.13,375.9 L657.82,377.22 L658.52,378.53 L659.25,379.83 L660,381.11 L660.77,382.38 L661.55,383.63 L662.36,384.87 L663.19,386.09 L664.04,387.3 L664.91,388.5 L665.79,389.68 L666.7,390.85 L667.62,392 L668.56,393.13 L669.52,394.26 L670.49,395.36 L671.48,396.45 L672.49,397.53 L673.52,398.59 L674.56,399.63 L675.62,400.66 L676.7,401.67 L677.78,402.67 L678.89,403.65 L680.01,404.61 L681.14,405.56 L682.29,406.5 L683.46,407.41 L684.63,408.31 L685.82,409.19 L687.03,410.06 L688.24,410.91 L689.47,411.74 L690.71,412.56 L691.97,413.36 L693.23,414.14 L694.51,414.91 L695.8,415.65 L697.09,416.39 L698.4,417.1 L699.72,417.8 L701.05,418.49 L702.39,419.15 L703.74,419.8 L705.1,420.44 L706.47,421.06 L707.85,421.66 L709.23,422.25 L710.62,422.82 L712.02,423.38 L713.43,423.92 L714.85,424.45 L716.27,424.96 L717.7,425.46 L719.13,425.94 L720.57,426.41 L722.02,426.86 L723.47,427.3 L724.93,427.73 L726.39,428.14 L727.86,428.53 L729.33,428.92 L730.8,429.28 L732.28,429.64 L733.76,429.98 L735.25,430.3 L736.74,430.62 L738.23,430.92 L739.72,431.2 L741.21,431.48 L742.71,431.74 L744.21,431.99 L745.71,432.22 L747.2,432.44 L748.7,432.65 L750.2,432.85 L751.7,433.03 L753.2,433.2 L754.7,433.36 L756.2,433.51 L757.7,433.65 L759.19,433.77 L760.68,433.88 L762.18,433.98 L763.66,434.07 L765.15,434.15 L766.63,434.22 L768.11,434.27 L769.59,434.32 L771.06,434.35 L772.53,434.37 L773.99,434.38 L775.45,434.38 L776.9,434.37 L778.35,434.35 L779.79,434.32 L781.23,434.28" fill="none" stroke="#3592ab" stroke-width="1.15" stroke-linejoin="round" />
<path d="M579.4,435.3 L581.05,432.43 L582.7,429.59 L584.36,426.77 L586.03,423.99 L587.69,421.23 L589.37,418.49 L591.05,415.78 L592.73,413.1 L594.42,410.45 L596.12,407.82 L597.82,405.22 L599.52,402.65 L601.23,400.1 L602.95,397.58 L604.67,395.09 L606.39,392.62 L608.13,390.18 L609.86,387.77 L611.6,385.38 L613.35,383.02 L615.1,380.69 L616.86,378.39 L618.62,376.11 L620.38,373.86 L622.16,371.63 L623.93,369.43 L625.72,367.26 L627.5,365.12 L629.29,363 L631.09,360.91 L632.89,358.85 L634.7,356.81 L636.52,354.8 L638.33,352.81 L640.16,350.86 L641.98,348.93 L643.82,347.03 L645.66,345.15 L647.5,343.3 L648.43,342.31 L649.53,341.49 L650.65,340.69 L651.76,339.9 L652.89,339.13 L654.02,338.37 L655.16,337.63 L656.3,336.91 L657.45,336.19 L658.61,335.49 L659.77,334.81 L660.93,334.14 L662.1,333.48 L663.28,332.84 L664.46,332.21 L665.65,331.59 L666.85,330.99 L668.05,330.4 L669.25,329.82 L670.46,329.26 L671.67,328.7 L672.89,328.17 L674.11,327.64 L675.34,327.12 L676.57,326.62 L677.81,326.13 L679.05,325.65 L680.3,325.18 L681.55,324.72 L682.8,324.27 L684.06,323.84 L685.32,323.41 L686.59,323 L687.86,322.59 L689.13,322.2 L690.41,321.82 L691.69,321.44 L692.97,321.08 L694.26,320.73 L695.55,320.38 L696.85,320.05 L698.14,319.73 L699.44,319.41 L700.75,319.1 L702.05,318.81 L703.36,318.52 L704.68,318.23 L705.99,317.96 L707.31,317.7 L708.63,317.44 L709.95,317.19 L711.28,316.95 L712.6,316.72 L713.93,316.49 L715.26,316.28 L716.6,316.07 L717.93,315.86 L719.27,315.66 L720.61,315.47 L721.95,315.29 L723.29,315.11 L724.64,314.94 L725.98,314.77 L727.33,314.62 L728.68,314.46 L730.03,314.31 L731.38,314.17 L732.73,314.03 L734.08,313.9 L735.44,313.77 L736.79,313.65 L738.14,313.53 L739.5,313.42 L740.86,313.31 L742.21,313.21 L743.57,313.11 L744.93,313.01 L746.28,312.92 L747.64,312.83 L749,312.74 L750.36,312.66 L751.71,312.58 L753.07,312.5 L754.43,312.43 L755.79,312.36 L757.14,312.29 L758.5,312.22 L759.85,312.16 L761.21,312.09 L762.56,312.03 L763.91,311.98 L765.27,311.92 L766.62,311.86 L767.97,311.81 L769.31,311.76 L770.66,311.71 L772.01,311.65 L773.35,311.6 L774.7,311.55 L776.04,311.5 L777.38,311.46 L778.71,311.41 L780.05,311.36 L781.39,311.31 L782.72,311.26 L784.05,311.21 L785.38,311.15 L786.7,311.1 L788.03,311.05 L789.35,311 L790.67,310.94 L791.98,310.88 L793.29,310.82 L794.61,310.76 L795.91,310.7 L797.22,310.64 L798.52,310.57 L799.82,310.5 L801.11,310.43" fill="none" stroke="#3592ab" stroke-width="1.15" stroke-linejoin="round" />
<path d="M579.39,360.6 L579.85,360.31 L580.31,360.01 L580.76,359.71 L581.21,359.4 L581.66,359.09 L582.11,358.78 L582.55,358.47 L582.99,358.15 L583.42,357.83 L583.86,357.51 L584.29,357.18 L584.72,356.85 L585.14,356.52 L585.57,356.19 L585.99,355.85 L586.4,355.51 L586.82,355.16 L587.23,354.82 L587.64,354.47 L588.05,354.12 L588.45,353.76 L588.85,353.41 L589.25,353.05 L589.65,352.68 L590.04,352.32 L590.43,351.95 L590.82,351.58 L591.21,351.21 L591.59,350.84 L591.97,350.46 L592.35,350.08 L592.73,349.7 L593.1,349.31 L593.47,348.93 L593.84,348.54 L594.21,348.15 L594.57,347.75 L594.93,347.36 L595.29,346.96 L595.65,346.56 L596,346.16 L596.36,345.75 L596.71,345.34 L597.05,344.94 L597.4,344.53 L597.74,344.11 L598.08,343.7 L598.42,343.28 L598.76,342.86 L599.09,342.44 L599.42,342.02 L599.75,341.6 L600.08,341.17 L600.41,340.74 L600.73,340.31 L601.05,339.88 L601.37,339.45 L601.69,339.01 L602,338.58 L602.32,338.14 L602.63,337.7 L602.94,337.26 L603.24,336.82 L603.55,336.37 L603.85,335.93 L604.15,335.48 L604.45,335.03 L604.75,334.58 L605.04,334.13 L605.34,333.68 L605.63,333.22 L605.92,332.77 L606.21,332.31 L606.49,331.85 L606.78,331.39 L607.06,330.93 L607.34,330.47 L607.62,330.01 L607.9,329.55 L608.17,329.08 L608.44,328.62 L608.72,328.15 L608.99,327.68 L609.25,327.21 L609.52,326.74 L609.79,326.27 L610.05,325.8 L610.31,325.33 L610.57,324.85 L610.83,324.38 L611.09,323.91 L611.34,323.43 L611.59,322.95 L611.85,322.48 L612.1,322 L612.35,321.52 L612.59,321.04 L612.84,320.56 L613.08,320.08 L613.33,319.6 L613.57,319.12 L613.81,318.64 L614.05,318.16 L614.29,317.67 L614.52,317.19 L614.76,316.71 L614.99,316.22 L615.22,315.74 L615.45,315.25 L615.68,314.77 L615.91,314.28 L616.14,313.8 L616.36,313.31 L616.59,312.83 L616.81,312.34 L617.03,311.86 L617.25,311.37 L617.47,310.89 L617.69,310.4 L801.2,310.4" fill="none" stroke="#a8404e" stroke-width="1.15" stroke-linejoin="round" stroke-dasharray="4.2,2.8"/>
<path d="M580,435.36 L580.1,432.99 L580.24,430.6 L580.4,428.2 L580.58,425.79 L580.8,423.36 L581.05,420.92 L581.33,418.48 L581.64,416.02 L581.99,413.57 L582.37,411.11 L582.78,408.65 L583.24,406.19 L583.73,403.73 L584.26,401.29 L584.82,398.84 L585.43,396.41 L586.08,393.99 L586.78,391.58 L587.51,389.19 L588.29,386.82 L589.12,384.46 L590,382.12 L590.92,379.81 L591.89,377.53 L592.9,375.27 L593.97,373.04 L595.1,370.84 L596.27,368.67 L597.5,366.54 L598.78,364.44 L600.11,362.38 L601.5,360.36 L602.93,358.38 L604.42,356.44 L605.95,354.53 L607.53,352.67 L609.15,350.84 L610.82,349.06 L612.53,347.32 L614.29,345.62 L616.08,343.96 L617.92,342.35 L619.79,340.78 L621.7,339.26 L623.65,337.78 L625.63,336.34 L627.64,334.96 L629.69,333.62 L631.76,332.32 L633.87,331.08 L636.01,329.88 L638.17,328.73 L640.36,327.64 L642.58,326.59 L644.82,325.59 L647.08,324.65 L649.36,323.76 L651.66,322.92 L653.99,322.13 L656.33,321.38 L658.69,320.69 L661.06,320.04 L663.45,319.43 L665.85,318.86 L668.26,318.33 L670.69,317.83 L673.12,317.37 L675.57,316.95 L678.02,316.55 L680.47,316.18 L682.94,315.85 L685.4,315.53 L687.87,315.24 L690.34,314.97 L692.82,314.72 L695.29,314.48 L697.76,314.27 L700.23,314.07 L702.7,313.88 L705.17,313.71 L707.64,313.55 L710.1,313.41 L712.57,313.28 L715.04,313.16 L717.51,313.05 L719.97,312.95 L722.44,312.85 L724.9,312.77 L727.37,312.7 L729.83,312.63 L732.3,312.57 L734.76,312.52 L737.22,312.47 L739.68,312.42 L742.15,312.38 L744.61,312.34 L747.07,312.3 L749.53,312.26 L751.99,312.23 L754.45,312.19 L756.91,312.15 L759.37,312.12 L761.83,312.08 L764.29,312.03 L766.75,311.98 L769.21,311.93 L771.67,311.87 L774.12,311.81 L776.58,311.74 L779.04,311.66 L781.5,311.58 L783.96,311.48 L786.41,311.38 L788.87,311.26 L791.33,311.14 L793.79,311 L796.24,310.85 L798.7,310.68 L801.16,310.51" fill="none" stroke="#a8404e" stroke-width="1.15" stroke-linejoin="round" stroke-dasharray="4.2,2.8"/>
<path d="M615.57,343.37 L615.32,345.2 L615.13,347.05 L614.99,348.9 L614.9,350.75 L614.85,352.61 L614.86,354.48 L614.91,356.35 L615.01,358.22 L615.15,360.09 L615.35,361.96 L615.58,363.82 L615.86,365.68 L616.19,367.54 L616.56,369.39 L616.97,371.23 L617.43,373.07 L617.93,374.9 L618.47,376.71 L619.05,378.51 L619.67,380.3 L620.33,382.07 L621.03,383.83 L621.77,385.57 L622.55,387.29 L623.36,389 L624.22,390.68 L625.11,392.34 L626.03,393.97 L626.99,395.59 L627.99,397.17 L629.02,398.73 L630.08,400.26 L631.18,401.76 L632.31,403.23 L633.48,404.67 L634.67,406.08 L635.9,407.45 L637.16,408.78 L638.44,410.08 L639.76,411.34 L641.1,412.56 L642.48,413.74 L643.88,414.88 L645.31,415.97 L646.77,417.03 L648.25,418.04 L649.76,419 L651.29,419.93 L652.84,420.81 L654.42,421.66 L656.03,422.47 L657.65,423.24 L659.3,423.97 L660.96,424.67 L662.65,425.33 L664.36,425.96 L666.08,426.56 L667.83,427.12 L669.59,427.65 L671.36,428.15 L673.16,428.62 L674.96,429.06 L676.79,429.48 L678.62,429.86 L680.47,430.22 L682.34,430.56 L684.21,430.87 L686.1,431.15 L687.99,431.42 L689.9,431.66 L691.81,431.88 L693.74,432.08 L695.67,432.26 L697.61,432.42 L699.55,432.57 L701.51,432.7 L703.46,432.81 L705.42,432.91 L707.39,432.99 L709.36,433.06 L711.33,433.12 L713.3,433.16 L715.27,433.2 L717.25,433.22 L719.22,433.24 L721.19,433.25 L723.16,433.25 L725.13,433.24 L727.1,433.23 L729.06,433.22 L731.02,433.2 L732.97,433.18 L734.92,433.15 L736.86,433.13 L738.79,433.1 L740.72,433.08 L742.64,433.05 L744.55,433.03 L746.45,433.02 L748.34,433 L750.21,432.99 L752.08,432.99 L753.93,433 L755.77,433.01 L757.6,433.03 L759.41,433.06 L761.21,433.1 L762.99,433.15 L764.76,433.21 L766.5,433.29 L768.23,433.37 L769.95,433.48 L771.64,433.6 L773.31,433.73 L774.96,433.88 L776.59,434.05 L778.2,434.24 L779.79,434.45 L781.35,434.68" fill="none" stroke="#a8404e" stroke-width="1.15" stroke-linejoin="round" stroke-dasharray="4.2,2.8"/>
<line x1="145.3" y1="579.5" x2="407.66" y2="579.5" stroke="#444444" stroke-width="1.05" />
<line x1="145.3" y1="603.5" x2="407.66" y2="603.5" stroke="#444444" stroke-width="1.05" />
<line x1="145.3" y1="627.5" x2="407.66" y2="627.5" stroke="#444444" stroke-width="1.05" />
<line x1="145.3" y1="651.5" x2="407.66" y2="651.5" stroke="#444444" stroke-width="1.05" />
<line x1="145.3" y1="676.5" x2="407.66" y2="676.5" stroke="#444444" stroke-width="1.05" />
<line x1="145.3" y1="700.5" x2="407.66" y2="700.5" stroke="#444444" stroke-width="1.05" />
<line x1="145.3" y1="724.5" x2="407.66" y2="724.5" stroke="#444444" stroke-width="1.05" />
<line x1="145.5" y1="579" x2="145.5" y2="724.92" stroke="#444444" stroke-width="1.05" />
<line x1="182.5" y1="579" x2="182.5" y2="724.92" stroke="#444444" stroke-width="1.05" />
<line x1="220.5" y1="579" x2="220.5" y2="724.92" stroke="#444444" stroke-width="1.05" />
<line x1="257.5" y1="579" x2="257.5" y2="724.92" stroke="#444444" stroke-width="1.05" />
<line x1="295.5" y1="579" x2="295.5" y2="724.92" stroke="#444444" stroke-width="1.05" />
<line x1="332.5" y1="579" x2="332.5" y2="724.92" stroke="#444444" stroke-width="1.05" />
<line x1="370.5" y1="579" x2="370.5" y2="724.92" stroke="#444444" stroke-width="1.05" />
<line x1="407.5" y1="579" x2="407.5" y2="724.92" stroke="#444444" stroke-width="1.05" />
<text x="124.68" y="581.3" font-size="9" textLength="16.52" lengthAdjust="spacingAndGlyphs" fill="#404040" >120</text>
<text x="124.68" y="605.72" font-size="9" textLength="16.52" lengthAdjust="spacingAndGlyphs" fill="#404040" >100</text>
<text x="124.99" y="630.14" font-size="9" textLength="11.01" lengthAdjust="spacingAndGlyphs" fill="#404040" >80</text>
<text x="124.84" y="654.56" font-size="9" textLength="11.01" lengthAdjust="spacingAndGlyphs" fill="#404040" >60</text>
<text x="125.15" y="678.98" font-size="9" textLength="11.01" lengthAdjust="spacingAndGlyphs" fill="#404040" >40</text>
<text x="124.84" y="703.4" font-size="9" textLength="11.01" lengthAdjust="spacingAndGlyphs" fill="#404040" >20</text>
<text x="124.99" y="727.82" font-size="9" textLength="5.51" lengthAdjust="spacingAndGlyphs" fill="#404040" >0</text>
<text x="134.11" y="741.8" font-size="9" textLength="14.31" lengthAdjust="spacingAndGlyphs" fill="#404040" >-20</text>
<text x="173.31" y="741.8" font-size="9" textLength="14.31" lengthAdjust="spacingAndGlyphs" fill="#404040" >-10</text>
<text x="216.82" y="741.8" font-size="9" textLength="5.51" lengthAdjust="spacingAndGlyphs" fill="#404040" >0</text>
<text x="252.51" y="741.8" font-size="9" textLength="11.01" lengthAdjust="spacingAndGlyphs" fill="#404040" >10</text>
<text x="291.79" y="741.8" font-size="9" textLength="11.01" lengthAdjust="spacingAndGlyphs" fill="#404040" >20</text>
<text x="331.06" y="741.8" font-size="9" textLength="11.01" lengthAdjust="spacingAndGlyphs" fill="#404040" >30</text>
<text x="370.14" y="741.8" font-size="9" textLength="11.01" lengthAdjust="spacingAndGlyphs" fill="#404040" >40</text>
<text x="408.76" y="741.8" font-size="9" textLength="11.01" lengthAdjust="spacingAndGlyphs" fill="#404040" >50</text>
<text x="207.1" y="755.4" font-size="12.5" textLength="145.28" lengthAdjust="spacingAndGlyphs" fill="#333" >Ambient temperature(℃)</text>
<text x="-0.63" y="0" font-size="12.5" textLength="72.62" lengthAdjust="spacingAndGlyphs" transform="translate(113.8,684.4) rotate(-90)" fill="#333" >Capacity(%)</text>
<path d="M145.09,651.3 L147.07,650.2 L149.06,649.12 L151.05,648.05 L153.06,647.01 L155.08,645.99 L157.1,644.98 L159.14,644 L161.18,643.03 L163.23,642.08 L165.29,641.14 L167.36,640.23 L169.43,639.32 L171.51,638.44 L173.6,637.57 L175.7,636.71 L177.8,635.87 L179.91,635.05 L182.03,634.24 L184.15,633.44 L186.28,632.66 L188.41,631.88 L190.55,631.13 L192.69,630.38 L194.84,629.65 L196.99,628.92 L199.15,628.21 L201.31,627.51 L203.48,626.82 L205.65,626.14 L207.82,625.47 L210,624.81 L212.18,624.16 L214.36,623.52 L216.55,622.88 L218.74,622.25 L220.93,621.64 L223.12,621.02 L225.32,620.42 L227.51,619.82 L229.71,619.23 L231.91,618.65 L234.12,618.08 L236.32,617.51 L238.53,616.95 L240.74,616.4 L242.95,615.85 L245.16,615.31 L247.38,614.78 L249.59,614.26 L251.81,613.74 L254.03,613.23 L256.25,612.73 L258.48,612.24 L260.7,611.75 L262.93,611.27 L265.15,610.8 L267.38,610.34 L269.61,609.88 L271.84,609.43 L274.07,608.99 L276.31,608.55 L278.54,608.12 L280.78,607.7 L283.02,607.29 L285.25,606.88 L287.49,606.48 L289.73,606.09 L291.97,605.71 L294.22,605.33 L296.46,604.96 L298.7,604.6 L300.95,604.25 L303.19,603.9 L305.44,603.56 L307.69,603.23 L309.94,602.91 L312.19,602.59 L314.44,602.29 L316.69,601.99 L318.94,601.7 L321.2,601.42 L323.45,601.14 L325.71,600.88 L327.96,600.62 L330.22,600.37 L332.48,600.13 L334.74,599.9 L336.99,599.67 L339.26,599.46 L341.52,599.25 L343.78,599.06 L346.04,598.87 L348.31,598.69 L350.57,598.52 L352.84,598.36 L355.1,598.21 L357.37,598.06 L359.64,597.93 L361.91,597.8 L364.18,597.69 L366.45,597.58 L368.72,597.48 L370.99,597.4 L373.26,597.32 L375.53,597.25 L377.81,597.19 L380.08,597.14 L382.36,597.11 L384.63,597.08 L386.91,597.06 L389.19,597.05 L391.46,597.05 L393.74,597.06 L396.02,597.08 L398.3,597.11 L400.58,597.15 L402.86,597.2 L405.14,597.27 L407.43,597.34" fill="none" stroke="#a83444" stroke-width="1.1" stroke-linejoin="round" />
<line x1="535.6" y1="577.5" x2="797.89" y2="577.5" stroke="#444444" stroke-width="1.05" />
<line x1="535.6" y1="601.5" x2="797.89" y2="601.5" stroke="#444444" stroke-width="1.05" />
<line x1="535.6" y1="625.5" x2="797.89" y2="625.5" stroke="#444444" stroke-width="1.05" />
<line x1="535.6" y1="650.5" x2="797.89" y2="650.5" stroke="#444444" stroke-width="1.05" />
<line x1="535.6" y1="674.5" x2="797.89" y2="674.5" stroke="#444444" stroke-width="1.05" />
<line x1="535.6" y1="698.5" x2="797.89" y2="698.5" stroke="#444444" stroke-width="1.05" />
<line x1="535.6" y1="722.5" x2="797.89" y2="722.5" stroke="#444444" stroke-width="1.05" />
<line x1="535.5" y1="577.3" x2="535.5" y2="722.98" stroke="#444444" stroke-width="1.05" />
<line x1="573.5" y1="577.3" x2="573.5" y2="722.98" stroke="#444444" stroke-width="1.05" />
<line x1="610.5" y1="577.3" x2="610.5" y2="722.98" stroke="#444444" stroke-width="1.05" />
<line x1="648.5" y1="577.3" x2="648.5" y2="722.98" stroke="#444444" stroke-width="1.05" />
<line x1="685.5" y1="577.3" x2="685.5" y2="722.98" stroke="#444444" stroke-width="1.05" />
<line x1="722.5" y1="577.3" x2="722.5" y2="722.98" stroke="#444444" stroke-width="1.05" />
<line x1="760.5" y1="577.3" x2="760.5" y2="722.98" stroke="#444444" stroke-width="1.05" />
<line x1="797.5" y1="577.3" x2="797.5" y2="722.98" stroke="#444444" stroke-width="1.05" />
<path d="M535.51,601.53 L536.95,601.36 L538.37,601.25 L539.77,601.19 L541.14,601.18 L542.5,601.23 L543.84,601.32 L545.16,601.46 L546.46,601.65 L547.74,601.89 L549,602.18 L550.24,602.51 L551.45,602.88 L552.65,603.29 L553.83,603.75 L554.99,604.24 L556.13,604.78 L557.25,605.35 L558.35,605.97 L559.43,606.61 L560.49,607.29 L561.52,608.01 L562.54,608.76 L563.54,609.54 L564.52,610.35 L565.48,611.19 L566.42,612.06 L567.34,612.96 L568.24,613.88 L569.12,614.83 L569.97,615.8 L570.81,616.79 L571.63,617.81 L572.43,618.85 L573.21,619.91 L573.97,620.98 L574.71,622.08 L575.42,623.19 L576.12,624.31 L576.8,625.45 L577.46,626.61 L578.1,627.77 L578.72,628.95 L579.31,630.14 L579.89,631.33 L580.45,632.53 L580.99,633.75 L581.5,634.96 L582,636.18 L582.48,637.41 L582.94,638.63 L583.37,639.86 L583.79,641.09 L584.19,642.32 L584.56,643.54 L584.92,644.77 L585.26,645.99 L585.57,647.2 L585.87,648.41 L586.15,649.61 L569.99,649.6 L569.87,648.6 L569.74,647.59 L569.6,646.58 L569.44,645.55 L569.27,644.51 L569.09,643.47 L568.9,642.42 L568.7,641.37 L568.48,640.31 L568.24,639.25 L568,638.19 L567.74,637.13 L567.46,636.06 L567.18,635 L566.87,633.94 L566.55,632.88 L566.22,631.82 L565.87,630.76 L565.51,629.71 L565.13,628.67 L564.73,627.63 L564.32,626.6 L563.89,625.58 L563.45,624.56 L562.98,623.56 L562.5,622.57 L562.01,621.58 L561.49,620.62 L560.96,619.66 L560.41,618.72 L559.84,617.79 L559.25,616.88 L558.65,615.99 L558.02,615.11 L557.38,614.25 L556.72,613.42 L556.03,612.6 L555.33,611.8 L554.61,611.03 L553.86,610.28 L553.1,609.55 L552.31,608.84 L551.51,608.17 L550.68,607.52 L549.83,606.89 L548.96,606.3 L548.07,605.73 L547.15,605.19 L546.21,604.69 L545.25,604.21 L544.27,603.77 L543.27,603.36 L542.24,602.99 L541.18,602.65 L540.11,602.35 L539.01,602.08 L537.88,601.85 L536.73,601.66 L535.56,601.51Z" fill="#c9c9c9" stroke="none" stroke-width="1" stroke-linejoin="round" />
<path d="M552.21,601.4 L553.82,601.25 L555.45,601.11 L557.1,600.96 L558.76,600.82 L560.43,600.67 L562.12,600.54 L563.82,600.4 L565.53,600.27 L567.25,600.14 L568.98,600.02 L570.73,599.91 L572.47,599.81 L574.23,599.71 L576,599.63 L577.77,599.55 L579.54,599.49 L581.32,599.43 L583.1,599.39 L584.89,599.37 L586.68,599.36 L588.47,599.36 L590.26,599.38 L592.05,599.42 L593.84,599.47 L595.63,599.55 L597.42,599.64 L599.2,599.75 L600.98,599.89 L602.76,600.05 L604.53,600.23 L606.29,600.43 L608.05,600.66 L609.8,600.91 L611.54,601.19 L613.27,601.5 L614.99,601.83 L616.7,602.19 L618.4,602.58 L620.08,603.01 L621.76,603.46 L623.42,603.94 L625.06,604.46 L626.69,605.01 L628.3,605.6 L629.9,606.22 L631.48,606.88 L633.04,607.57 L634.58,608.3 L636.1,609.07 L637.6,609.87 L639.07,610.71 L640.52,611.59 L641.94,612.51 L643.34,613.46 L644.71,614.45 L646.04,615.48 L647.35,616.55 L648.63,617.65 L649.87,618.8 L651.08,619.98 L652.25,621.2 L653.39,622.46 L654.49,623.75 L655.55,625.09 L656.56,626.47 L657.54,627.88 L658.48,629.34 L659.37,630.83 L660.21,632.37 L661.01,633.94 L661.77,635.55 L662.47,637.21 L663.12,638.9 L663.72,640.64 L664.27,642.41 L664.77,644.23 L665.21,646.09 L665.6,647.99 L665.93,649.92 L648.1,649.52 L647.51,648.15 L646.89,646.8 L646.24,645.48 L645.57,644.18 L644.86,642.9 L644.14,641.65 L643.38,640.41 L642.61,639.2 L641.8,638.02 L640.97,636.85 L640.12,635.71 L639.25,634.58 L638.35,633.48 L637.43,632.41 L636.49,631.35 L635.52,630.31 L634.54,629.3 L633.53,628.3 L632.51,627.33 L631.46,626.37 L630.4,625.44 L629.32,624.53 L628.21,623.64 L627.1,622.76 L625.96,621.91 L624.81,621.08 L623.64,620.27 L622.45,619.47 L621.25,618.7 L620.04,617.94 L618.81,617.21 L617.56,616.49 L616.31,615.79 L615.04,615.11 L613.75,614.45 L612.46,613.81 L611.15,613.18 L609.83,612.58 L608.51,611.99 L607.17,611.42 L605.82,610.86 L604.46,610.33 L603.1,609.81 L601.72,609.3 L600.34,608.82 L598.95,608.35 L597.56,607.9 L596.16,607.47 L594.75,607.05 L593.34,606.65 L591.92,606.26 L590.49,605.89 L589.07,605.54 L587.64,605.2 L586.2,604.88 L584.77,604.57 L583.33,604.28 L581.89,604 L580.45,603.74 L579.01,603.5 L577.57,603.27 L576.13,603.05 L574.69,602.85 L573.25,602.66 L571.81,602.48 L570.38,602.32 L568.94,602.18 L567.51,602.04 L566.09,601.93 L564.67,601.82 L563.25,601.73 L561.84,601.65 L560.43,601.58 L559.03,601.53 L557.64,601.49 L556.25,601.46 L554.87,601.45 L553.5,601.45 L552.13,601.46Z" fill="#c9c9c9" stroke="none" stroke-width="1" stroke-linejoin="round" />
<path d="M580.07,600.56 L582.45,600.45 L584.84,600.34 L587.24,600.24 L589.64,600.15 L592.04,600.07 L594.45,600 L596.87,599.94 L599.29,599.9 L601.71,599.86 L604.14,599.83 L606.57,599.82 L609,599.82 L611.44,599.84 L613.87,599.86 L616.31,599.9 L618.75,599.96 L621.19,600.03 L623.64,600.11 L626.08,600.21 L628.52,600.33 L630.96,600.46 L633.4,600.61 L635.84,600.77 L638.28,600.96 L640.72,601.16 L643.15,601.38 L645.58,601.61 L648.01,601.87 L650.44,602.15 L652.86,602.45 L655.28,602.76 L657.69,603.1 L660.1,603.46 L662.5,603.84 L664.9,604.24 L667.29,604.67 L669.68,605.12 L672.06,605.59 L674.43,606.08 L676.8,606.6 L679.16,607.14 L681.51,607.71 L683.85,608.31 L686.18,608.93 L688.51,609.57 L690.82,610.24 L693.13,610.94 L695.42,611.67 L697.71,612.42 L699.98,613.2 L702.25,614.01 L704.5,614.85 L706.74,615.72 L708.96,616.62 L711.18,617.55 L713.38,618.51 L715.57,619.5 L717.75,620.52 L719.91,621.57 L722.05,622.66 L724.19,623.77 L726.3,624.92 L728.41,626.11 L730.49,627.33 L732.56,628.58 L734.61,629.87 L736.65,631.19 L738.67,632.55 L740.67,633.94 L742.66,635.37 L744.62,636.84 L746.57,638.34 L748.5,639.88 L750.41,641.46 L752.3,643.08 L754.16,644.73 L756.01,646.43 L757.84,648.16 L759.65,649.94 L723.32,649.53 L721.74,648.42 L720.14,647.32 L718.55,646.22 L716.94,645.13 L715.32,644.05 L713.7,642.97 L712.07,641.9 L710.44,640.84 L708.8,639.78 L707.15,638.74 L705.49,637.7 L703.83,636.67 L702.16,635.65 L700.48,634.64 L698.8,633.64 L697.11,632.65 L695.41,631.67 L693.71,630.7 L692,629.74 L690.28,628.79 L688.56,627.85 L686.83,626.92 L685.09,626 L683.35,625.1 L681.61,624.21 L679.85,623.33 L678.09,622.46 L676.33,621.61 L674.56,620.77 L672.78,619.94 L671,619.12 L669.21,618.32 L667.42,617.54 L665.62,616.76 L663.82,616.01 L662.01,615.26 L660.19,614.54 L658.37,613.82 L656.55,613.13 L654.72,612.45 L652.88,611.78 L651.04,611.13 L649.19,610.5 L647.34,609.89 L645.49,609.29 L643.63,608.71 L641.76,608.15 L639.89,607.6 L638.02,607.07 L636.14,606.57 L634.25,606.08 L632.37,605.61 L630.47,605.15 L628.58,604.72 L626.68,604.31 L624.77,603.92 L622.86,603.55 L620.95,603.19 L619.03,602.86 L617.11,602.55 L615.18,602.26 L613.26,602 L611.32,601.75 L609.39,601.53 L607.45,601.33 L605.5,601.15 L603.55,600.99 L601.6,600.86 L599.65,600.75 L597.69,600.66 L595.73,600.6 L593.77,600.56 L591.8,600.55 L589.83,600.56 L587.86,600.59 L585.88,600.65 L583.9,600.74 L581.92,600.85 L579.93,600.98Z" fill="#c9c9c9" stroke="none" stroke-width="1" stroke-linejoin="round" />
<text x="516.47" y="581.9" font-size="9" textLength="16.82" lengthAdjust="spacingAndGlyphs" fill="#404040" >120</text>
<text x="516.47" y="606.17" font-size="9" textLength="16.82" lengthAdjust="spacingAndGlyphs" fill="#404040" >100</text>
<text x="516.78" y="630.44" font-size="9" textLength="11.21" lengthAdjust="spacingAndGlyphs" fill="#404040" >80</text>
<text x="516.63" y="654.71" font-size="9" textLength="11.21" lengthAdjust="spacingAndGlyphs" fill="#404040" >60</text>
<text x="516.94" y="678.98" font-size="9" textLength="11.21" lengthAdjust="spacingAndGlyphs" fill="#404040" >40</text>
<text x="516.63" y="703.25" font-size="9" textLength="11.21" lengthAdjust="spacingAndGlyphs" fill="#404040" >20</text>
<text x="516.78" y="727.52" font-size="9" textLength="5.61" lengthAdjust="spacingAndGlyphs" fill="#404040" >0</text>
<text x="531.61" y="738.8" font-size="9.2" textLength="5.53" lengthAdjust="spacingAndGlyphs" fill="#404040" >0</text>
<text x="564.4" y="738.8" font-size="9.2" textLength="16.58" lengthAdjust="spacingAndGlyphs" fill="#404040" >200</text>
<text x="601.86" y="738.8" font-size="9.2" textLength="16.58" lengthAdjust="spacingAndGlyphs" fill="#404040" >400</text>
<text x="639" y="738.8" font-size="9.2" textLength="16.58" lengthAdjust="spacingAndGlyphs" fill="#404040" >600</text>
<text x="676.48" y="738.8" font-size="9.2" textLength="16.58" lengthAdjust="spacingAndGlyphs" fill="#404040" >800</text>
<text x="711.26" y="738.8" font-size="9.2" textLength="22.1" lengthAdjust="spacingAndGlyphs" fill="#404040" >1000</text>
<text x="748.26" y="738.8" font-size="9.2" textLength="22.1" lengthAdjust="spacingAndGlyphs" fill="#404040" >1200</text>
<text x="785.86" y="738.8" font-size="9.2" textLength="22.1" lengthAdjust="spacingAndGlyphs" fill="#404040" >1400</text>
<text x="614.07" y="754.6" font-size="11.8" textLength="102.04" lengthAdjust="spacingAndGlyphs" fill="#333" >Number of cycles</text>
<text x="-0.58" y="0" font-size="12.3" textLength="74.71" lengthAdjust="spacing" transform="translate(503.3,682.6) rotate(-90)" fill="#333" >Capacity(%)</text>
<text x="579.47" y="666.2" font-size="6.3" textLength="13.69" lengthAdjust="spacingAndGlyphs" fill="#666" >100%</text>
<text x="593.88" y="666.4" font-size="6.5" textLength="16.76" lengthAdjust="spacingAndGlyphs" fill="#666" font-style="italic" >DOD</text>
<text x="655.64" y="666.2" font-size="6.3" textLength="10.52" lengthAdjust="spacingAndGlyphs" fill="#666" >50%</text>
<text x="666.88" y="666.4" font-size="6.5" textLength="17.27" lengthAdjust="spacingAndGlyphs" fill="#666" font-style="italic" >DOD</text>
<text x="733.01" y="666.2" font-size="6.3" textLength="12.17" lengthAdjust="spacingAndGlyphs" fill="#666" >30%</text>
<text x="745.69" y="666.4" font-size="6.5" textLength="15.44" lengthAdjust="spacingAndGlyphs" fill="#666" font-style="italic" >DOD</text>
<line x1="144.7" y1="865.5" x2="406.72" y2="865.5" stroke="#444444" stroke-width="1.05" />
<line x1="144.7" y1="890.5" x2="406.72" y2="890.5" stroke="#444444" stroke-width="1.05" />
<line x1="144.7" y1="914.5" x2="406.72" y2="914.5" stroke="#444444" stroke-width="1.05" />
<line x1="144.7" y1="938.5" x2="406.72" y2="938.5" stroke="#444444" stroke-width="1.05" />
<line x1="144.7" y1="962.5" x2="406.72" y2="962.5" stroke="#444444" stroke-width="1.05" />
<line x1="144.7" y1="986.5" x2="406.72" y2="986.5" stroke="#444444" stroke-width="1.05" />
<line x1="144.7" y1="1010.5" x2="406.72" y2="1010.5" stroke="#444444" stroke-width="1.05" />
<line x1="144.5" y1="865.9" x2="144.5" y2="1010.5" stroke="#444444" stroke-width="1.05" />
<line x1="188.5" y1="865.9" x2="188.5" y2="1010.5" stroke="#444444" stroke-width="1.05" />
<line x1="232.5" y1="865.9" x2="232.5" y2="1010.5" stroke="#444444" stroke-width="1.05" />
<line x1="275.5" y1="865.9" x2="275.5" y2="1010.5" stroke="#444444" stroke-width="1.05" />
<line x1="319.5" y1="865.9" x2="319.5" y2="1010.5" stroke="#444444" stroke-width="1.05" />
<line x1="363.5" y1="865.9" x2="363.5" y2="1010.5" stroke="#444444" stroke-width="1.05" />
<line x1="406.5" y1="865.9" x2="406.5" y2="1010.5" stroke="#444444" stroke-width="1.05" />
<text x="120.66" y="869.6" font-size="9.1" textLength="17" lengthAdjust="spacingAndGlyphs" fill="#404040" >100</text>
<text x="120.82" y="893.6" font-size="9.1" textLength="11.34" lengthAdjust="spacingAndGlyphs" fill="#404040" >90</text>
<text x="120.98" y="917.6" font-size="9.1" textLength="11.34" lengthAdjust="spacingAndGlyphs" fill="#404040" >80</text>
<text x="120.82" y="941.6" font-size="9.1" textLength="11.34" lengthAdjust="spacingAndGlyphs" fill="#404040" >70</text>
<text x="120.82" y="965.6" font-size="9.1" textLength="11.34" lengthAdjust="spacingAndGlyphs" fill="#404040" >60</text>
<text x="120.98" y="989.6" font-size="9.1" textLength="11.34" lengthAdjust="spacingAndGlyphs" fill="#404040" >50</text>
<text x="121.14" y="1013.6" font-size="9.1" textLength="11.34" lengthAdjust="spacingAndGlyphs" fill="#404040" >40</text>
<text x="142.03" y="1024.7" font-size="8.8" textLength="5.48" lengthAdjust="spacingAndGlyphs" fill="#404040" >0</text>
<text x="185.41" y="1024.7" font-size="8.8" textLength="5.48" lengthAdjust="spacingAndGlyphs" fill="#404040" >3</text>
<text x="229.03" y="1024.7" font-size="8.8" textLength="5.48" lengthAdjust="spacingAndGlyphs" fill="#404040" >6</text>
<text x="272.43" y="1024.7" font-size="8.8" textLength="5.48" lengthAdjust="spacingAndGlyphs" fill="#404040" >9</text>
<text x="313.51" y="1024.7" font-size="8.8" textLength="10.96" lengthAdjust="spacingAndGlyphs" fill="#404040" >12</text>
<text x="356.61" y="1024.7" font-size="8.8" textLength="10.96" lengthAdjust="spacingAndGlyphs" fill="#404040" >15</text>
<text x="400.01" y="1024.7" font-size="8.8" textLength="10.96" lengthAdjust="spacingAndGlyphs" fill="#404040" >18</text>
<text x="215.78" y="1040.6" font-size="12.4" textLength="128.31" lengthAdjust="spacingAndGlyphs" fill="#333" >Storage time(months)</text>
<text x="-0.64" y="0" font-size="12.5" textLength="74.14" lengthAdjust="spacingAndGlyphs" transform="translate(112.1,972.9) rotate(-90)" fill="#333" >Capacity(%)</text>
<path d="M144.5,864.5 L406.7,914.9" fill="none" stroke="#b42a3e" stroke-width="1.1" stroke-linejoin="round" />
<path d="M144.5,864.5 L406.7,932.3" fill="none" stroke="#b42a3e" stroke-width="1.1" stroke-linejoin="round" />
<path d="M144.5,864.5 L319.8,931.4" fill="none" stroke="#b42a3e" stroke-width="1.1" stroke-linejoin="round" />
<path d="M144.5,864.5 L261.1,950.5" fill="none" stroke="#b42a3e" stroke-width="1.1" stroke-linejoin="round" />
<path d="M144.5,864.5 L204.5,959" fill="none" stroke="#b42a3e" stroke-width="1.1" stroke-linejoin="round" />
<text x="393.79" y="921.5" font-size="6.6" textLength="10.58" lengthAdjust="spacingAndGlyphs" fill="#555" >0℃</text>
<text x="369.09" y="938.2" font-size="6.6" textLength="13.67" lengthAdjust="spacingAndGlyphs" fill="#555" >10℃</text>
<text x="320.66" y="938.2" font-size="6.6" textLength="15.11" lengthAdjust="spacingAndGlyphs" fill="#555" >20℃</text>
<text x="262.7" y="959" font-size="6.6" textLength="13.46" lengthAdjust="spacingAndGlyphs" fill="#555" >30℃</text>
<text x="203.5" y="959.4" font-size="6.6" textLength="13.46" lengthAdjust="spacingAndGlyphs" fill="#555" >40℃</text>
<line x1="535.7" y1="865.5" x2="798.8" y2="865.5" stroke="#444444" stroke-width="1.05" />
<line x1="535.7" y1="894.5" x2="798.8" y2="894.5" stroke="#444444" stroke-width="1.05" />
<line x1="535.7" y1="924.5" x2="798.8" y2="924.5" stroke="#444444" stroke-width="1.05" />
<line x1="535.7" y1="953.5" x2="798.8" y2="953.5" stroke="#444444" stroke-width="1.05" />
<line x1="535.7" y1="982.5" x2="798.8" y2="982.5" stroke="#444444" stroke-width="1.05" />
<line x1="535.7" y1="1012.5" x2="798.8" y2="1012.5" stroke="#444444" stroke-width="1.05" />
<line x1="535.5" y1="865.6" x2="535.5" y2="1012" stroke="#444444" stroke-width="1.05" />
<line x1="588.5" y1="865.6" x2="588.5" y2="1012" stroke="#444444" stroke-width="1.05" />
<line x1="640.5" y1="865.6" x2="640.5" y2="1012" stroke="#444444" stroke-width="1.05" />
<line x1="693.5" y1="865.6" x2="693.5" y2="1012" stroke="#444444" stroke-width="1.05" />
<line x1="746.5" y1="865.6" x2="746.5" y2="1012" stroke="#444444" stroke-width="1.05" />
<line x1="798.5" y1="865.6" x2="798.5" y2="1012" stroke="#444444" stroke-width="1.05" />
<path d="M588.3,895.4 L593,895.4 L593,895.4 L594.48,895.69 L595.93,895.95 L597.37,896.18 L598.81,896.43 L600.28,896.7 L601.79,897.04 L603.36,897.46 L605,898 L606.69,898.62 L608.4,899.3 L610.15,900.04 L611.95,900.85 L613.82,901.74 L615.77,902.73 L617.83,903.81 L620,905 L622.32,906.34 L624.79,907.83 L627.38,909.44 L630.04,911.12 L632.75,912.86 L635.46,914.61 L638.16,916.33 L640.8,918 L746.3,978.2 L746.3,1001.4 L693.3,971.9 L640.8,942.3 L588.3,913.9Z" fill="#dddddd" stroke="#2a2a2a" stroke-width="1" stroke-linejoin="round" />
<text x="511.41" y="874" font-size="8.4" textLength="14.62" lengthAdjust="spacingAndGlyphs" fill="#404040" >7.5</text>
<text x="511.41" y="902.6" font-size="8.4" textLength="14.45" lengthAdjust="spacingAndGlyphs" fill="#404040" >6.0</text>
<text x="511.74" y="931.2" font-size="8.4" textLength="14.28" lengthAdjust="spacingAndGlyphs" fill="#404040" >4.5</text>
<text x="511.58" y="959.8" font-size="8.4" textLength="14.28" lengthAdjust="spacingAndGlyphs" fill="#404040" >3.0</text>
<text x="511.23" y="988.4" font-size="8.4" textLength="14.8" lengthAdjust="spacingAndGlyphs" fill="#404040" >1.5</text>
<text x="512.21" y="1017" font-size="8.4" textLength="5.14" lengthAdjust="spacingAndGlyphs" fill="#404040" >0</text>
<text x="533.9" y="1025.9" font-size="8.25" textLength="10.83" lengthAdjust="spacingAndGlyphs" fill="#404040" >10</text>
<text x="585.88" y="1025.9" font-size="8.25" textLength="10.83" lengthAdjust="spacingAndGlyphs" fill="#404040" >20</text>
<text x="637.45" y="1025.9" font-size="8.25" textLength="10.83" lengthAdjust="spacingAndGlyphs" fill="#404040" >30</text>
<text x="689.93" y="1025.9" font-size="8.25" textLength="10.83" lengthAdjust="spacingAndGlyphs" fill="#404040" >40</text>
<text x="740.85" y="1025.9" font-size="8.25" textLength="10.83" lengthAdjust="spacingAndGlyphs" fill="#404040" >50</text>
<text x="792.68" y="1025.9" font-size="8.25" textLength="10.83" lengthAdjust="spacingAndGlyphs" fill="#404040" >60</text>
<text x="586.8" y="1040.3" font-size="12.5" textLength="148.1" lengthAdjust="spacingAndGlyphs" fill="#333" >Ambient temperature(℃)</text>
<text x="-0.96" y="0" font-size="12.3" textLength="59.1" lengthAdjust="spacing" transform="translate(503.3,963.8) rotate(-90)" fill="#333" >Life(year)</text>
<circle cx="648.4" cy="1088.2" r="11.6" fill="#231f20"/>
<circle cx="675.4" cy="1088.2" r="11.6" fill="#231f20"/>
<circle cx="701.9" cy="1088.2" r="11.6" fill="#231f20"/>
<circle cx="728.9" cy="1088.2" r="11.6" fill="#231f20"/>
<g fill="none" stroke="#fff" stroke-linecap="butt"><path d="M643.3,1079.9 H653.2" stroke-width="1"/><path d="M644.2,1081.4 H652.6 L651.3,1093.6 H645.5 Z" stroke-width="0.9"/><path d="M646.2,1082.3 H650.3 V1084 H646.2 Z" stroke-width="0.7"/><path d="M640,1081.4 L656.9,1095.9 M657.1,1081.1 L640.2,1096.1" stroke-width="1.2"/><circle cx="646.2" cy="1095.3" r="1" stroke-width="0.8"/><circle cx="651" cy="1095.3" r="1" stroke-width="0.8"/></g>
<g fill="none" stroke="#fff" stroke-width="1.8" stroke-linejoin="miter"><path d="M670.2,1086.6 L673.6,1080.9 H677.4 L679.4,1084.3"/><path d="M681.6,1088.3 L684,1092.6 L682.3,1095.4 H678.2"/><path d="M673.2,1095.4 H668.6 L667,1092.6 L669.3,1088.7"/></g><g fill="#fff"><path d="M677.3,1085.9 L682.3,1087.3 L683,1082.2 Z"/><path d="M679.2,1092.6 L675.6,1095.4 L679.2,1098.2 Z"/><path d="M666.3,1088.8 L671.4,1087.4 L670.7,1092.4 Z" transform="rotate(0)"/></g>
<g fill="none" stroke="#fff" stroke-width="0.8"><path d="M696.4,1090 C695.6,1083 697,1079.9 701.9,1079.8 C706.8,1079.9 708.2,1083 707.4,1090"/><path d="M696.6,1090.3 C697.2,1094.6 699.5,1097.6 701.9,1097.7 C704.3,1097.6 706.6,1094.6 707.2,1090.3"/><path d="M697.2,1085.6 Q701.9,1083.2 706.6,1085.6"/></g><path d="M696.2,1086.8 H707.6 V1089.1 Q707.6,1090.3 706.4,1090.3 H703.3 L701.9,1089.1 L700.5,1090.3 H697.4 Q696.2,1090.3 696.2,1089.1 Z" fill="#fff"/>
<g fill="none" stroke="#fff" stroke-width="0.95" stroke-linejoin="round"><path d="M720.4,1083.4 Q724.3,1082.2 728.4,1083 V1092.6 Q724.3,1091.8 720.4,1092.8 Z"/><path d="M728.4,1083 Q732.5,1082.2 737,1083.4 V1092.8 Q732.5,1091.8 728.4,1092.6 Z"/></g><g fill="#fff"><circle cx="733.2" cy="1085.3" r="0.95"/><rect x="732.3" y="1086.8" width="1.8" height="4.1"/></g>
<circle cx="755.5" cy="1088.4" r="10.2" fill="none" stroke="#231f20" stroke-width="2.2"/>
<path d="M756.4,1088.9 L762.2,1082.6" stroke="#8a8a8a" stroke-width="3"/>
<path d="M748.2,1080.8 L763.3,1095.2" stroke="#231f20" stroke-width="2.2"/>
<path d="M750.8,1083.8 Q748.3,1087 749.6,1090.5 Q750.6,1093.2 753.2,1093.8 Q751.6,1091.6 752.6,1089.6 Q751.2,1088.6 751.4,1087.2 Q750.6,1085.6 750.8,1083.8 Z" fill="#231f20"/>
<circle cx="782.2" cy="1088.4" r="10.2" fill="none" stroke="#231f20" stroke-width="2.2"/>
<path d="M776.2,1081 L790.4,1095" stroke="#231f20" stroke-width="2.2"/>
<g fill="#231f20"><circle cx="782.8" cy="1081.8" r="1.6"/><path d="M780,1084 L785,1083.8 L788.4,1086.6 L787.6,1087.6 L785.4,1086.4 L785.6,1090 L789.4,1093.2 L788.6,1094.4 L784.6,1091.6 L782.2,1096.2 L780.8,1095.8 L782.4,1090.4 L782,1087 L779.6,1089 L778.8,1088.2 Z"/><circle cx="776.4" cy="1083.4" r="1.3"/><path d="M774.6,1085 L778.2,1085 L779.4,1088.6 L778.6,1089 L778.4,1090 L778.8,1094.2 L777.6,1094.2 L777,1090.6 L776.4,1090.6 L776.2,1094.2 L775,1094.2 L775.2,1089.6 L774.2,1088.8 Z"/></g>
<path d="M809.6,1078.6 L821,1098.2 H798.2 Z" fill="none" stroke="#231f20" stroke-width="1.5" stroke-linejoin="miter"/>
<g fill="#231f20"><rect x="807.2" y="1086.8" width="3.4" height="0.9"/><rect x="805.6" y="1090" width="3.4" height="0.9"/><rect x="805.4" y="1091.5" width="0.6" height="2.5"/><rect x="802.3" y="1094.9" width="4.8" height="0.9"/><ellipse cx="812.7" cy="1094.5" rx="3.6" ry="1.8"/></g>
</svg>
</body></html>
